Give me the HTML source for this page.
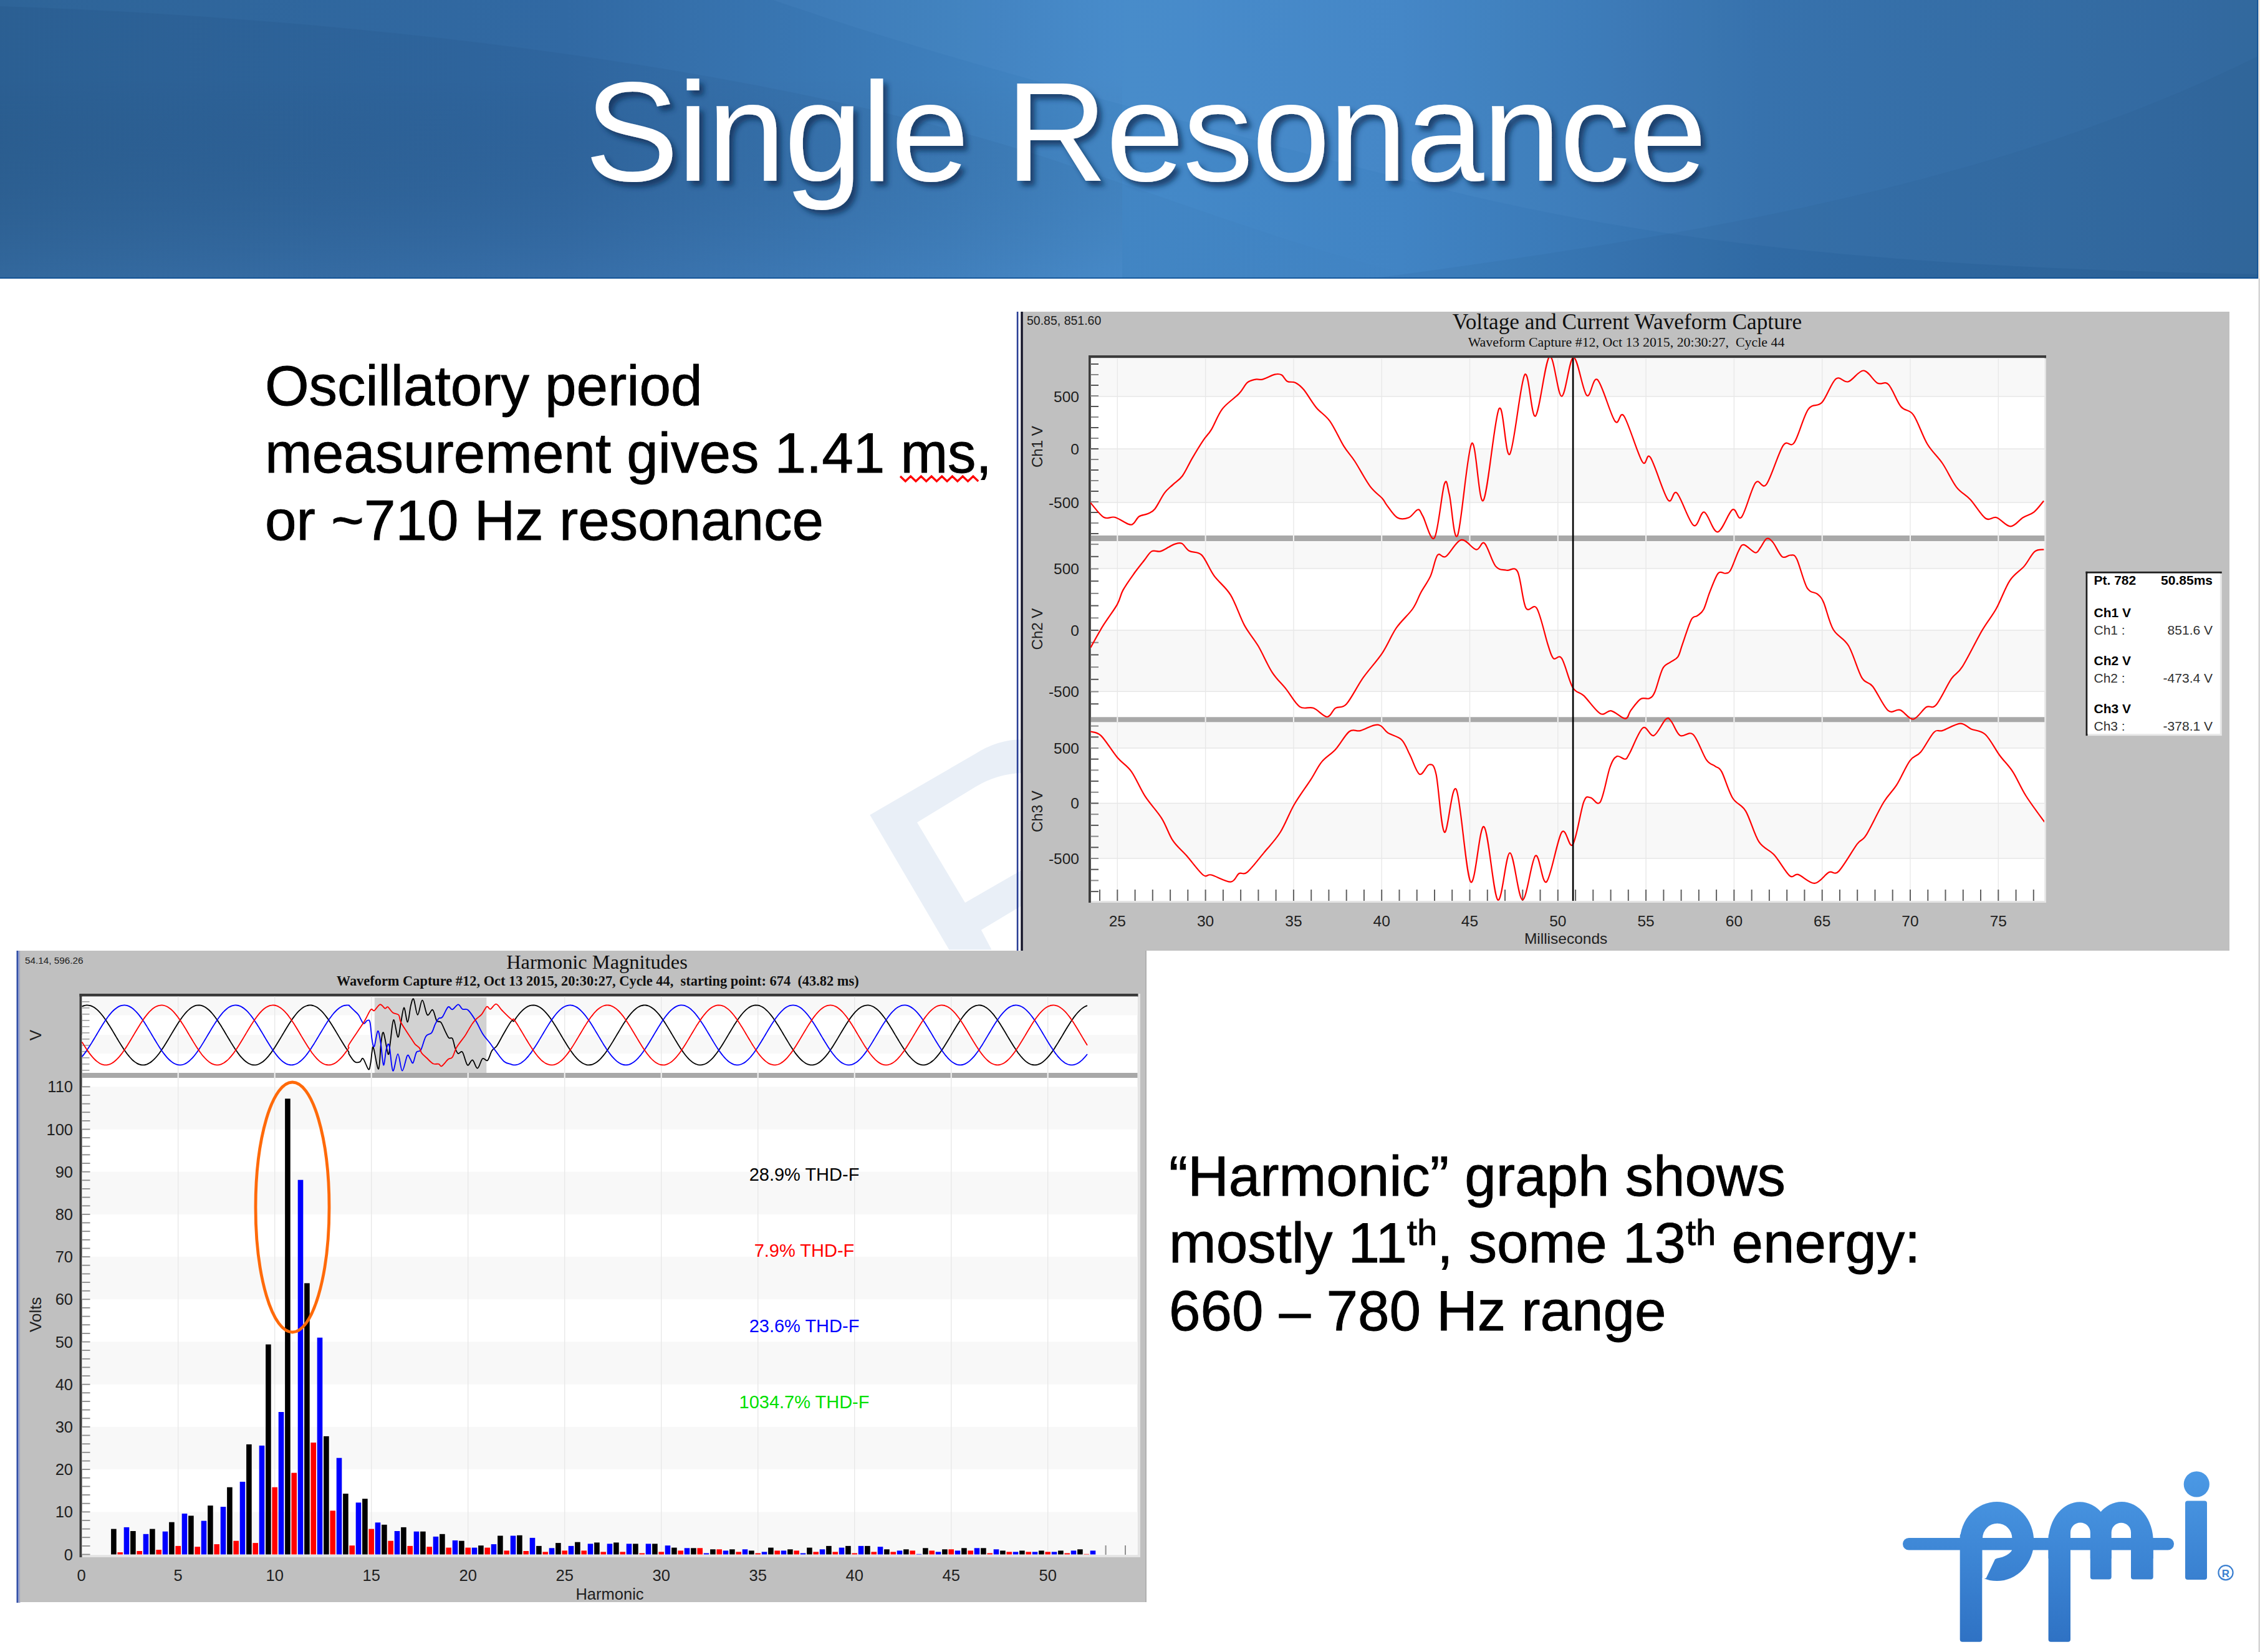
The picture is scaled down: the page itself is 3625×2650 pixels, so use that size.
<!DOCTYPE html>
<html><head><meta charset="utf-8"><title>Single Resonance</title>
<style>
html,body{margin:0;padding:0;background:#fff;overflow:hidden}
svg{display:block}
</style></head><body>
<svg width="3625" height="2650" viewBox="0 0 3625 2650">
<defs>
<linearGradient id="hdr" x1="0" y1="0" x2="1" y2="0">
<stop offset="0" stop-color="#2e6498"/>
<stop offset="0.25" stop-color="#3169a3"/>
<stop offset="0.5" stop-color="#4489c8"/>
<stop offset="0.62" stop-color="#4184c4"/>
<stop offset="0.78" stop-color="#326da8"/>
<stop offset="1" stop-color="#2d6398"/>
</linearGradient>
<linearGradient id="logo" x1="0" y1="0" x2="0" y2="1">
<stop offset="0" stop-color="#4a98e4"/>
<stop offset="1" stop-color="#2e72c4"/>
</linearGradient>
<filter id="tshadow" x="-5%" y="-20%" width="110%" height="150%">
<feGaussianBlur in="SourceAlpha" stdDeviation="4"/>
<feOffset dx="7" dy="8" result="b"/>
<feFlood flood-color="#0f2d55" flood-opacity="0.75"/>
<feComposite in2="b" operator="in"/>
<feMerge><feMergeNode/><feMergeNode in="SourceGraphic"/></feMerge>
</filter>
<clipPath id="topplot"><rect x="1749" y="574" width="1530" height="871"/></clipPath>
<clipPath id="miniplot"><rect x="131" y="1599" width="1694" height="122"/></clipPath>
</defs>

<rect x="0" y="0" width="3622" height="447" fill="url(#hdr)"/>
<linearGradient id="sw1" x1="0" y1="0" x2="1" y2="0"><stop offset="0" stop-color="#1c4677" stop-opacity="0.16"/><stop offset="0.7" stop-color="#1c4677" stop-opacity="0.08"/><stop offset="1" stop-color="#1c4677" stop-opacity="0"/></linearGradient>
<path d="M0,10 C600,30 1250,110 1700,260 C1950,345 2150,420 2300,447 L0,447 Z" fill="url(#sw1)"/>
<linearGradient id="sw0" x1="0" y1="0" x2="0" y2="1"><stop offset="0" stop-color="#000" stop-opacity="0"/><stop offset="1" stop-color="#6aa8e8" stop-opacity="0.13"/></linearGradient>
<rect x="0" y="120" width="1800" height="327" fill="url(#sw0)"/>
<path d="M1240,0 C1500,90 1800,170 2300,300 C2700,400 3100,430 3622,440 L3622,0 Z" fill="#7ab8f0" opacity="0.07"/>
<path d="M2200,447 C2700,380 3200,300 3622,90 L3622,447 Z" fill="#1c4677" opacity="0.07"/>
<rect x="3620.5" y="0" width="2" height="447" fill="#0d4f94"/>
<rect x="0" y="445" width="3622" height="2" fill="#0d4f94" opacity="0.8"/>
<rect x="3622.5" y="0" width="2.5" height="447" fill="#f6ebe0"/>
<rect x="3622.5" y="447" width="2.5" height="2203" fill="#d4d4d4"/>
<text x="938" y="290" style="font-family:'Liberation Sans',sans-serif;font-size:226px;letter-spacing:-2.3px" fill="#fff" filter="url(#tshadow)">Single Resonance</text>
<path d="M1395.3,1307.2 L1522.4,1523.5 L1590.5,1523.5 L1573.8,1491.8 L1640,1452 L1640,1395 L1548,1448 L1471,1319.3 L1565,1262 Q1600,1241 1640,1240 L1640,1186 Q1600,1186 1563,1210 Z" fill="#e9eff7"/>
<text x="425" y="649.5" style="font-family:'Liberation Sans',sans-serif;font-size:90.8px" fill="#000" stroke="#000" stroke-width="0.9">Oscillatory period</text>
<text x="425" y="757.5" style="font-family:'Liberation Sans',sans-serif;font-size:90.8px" fill="#000" stroke="#000" stroke-width="0.9">measurement gives 1.41 ms,</text>
<text x="425" y="866" style="font-family:'Liberation Sans',sans-serif;font-size:90.8px" fill="#000" stroke="#000" stroke-width="0.9">or ~710 Hz resonance</text>
<polyline points="1444.0,764.0 1452.3,772.0 1460.7,764.0 1469.0,772.0 1477.4,764.0 1485.7,772.0 1494.1,764.0 1502.4,772.0 1510.8,764.0 1519.1,772.0 1527.5,764.0 1535.8,772.0 1544.2,764.0 1552.5,772.0 1560.9,764.0 1569.2,772.0" fill="none" stroke="#ff0000" stroke-width="3.2" stroke-linejoin="miter"/>
<text x="1875" y="1917.8" style="font-family:'Liberation Sans',sans-serif;font-size:90.8px" fill="#000" stroke="#000" stroke-width="0.9">“Harmonic” graph shows</text>
<text x="1875" y="2025.4" style="font-family:'Liberation Sans',sans-serif;font-size:90.8px" fill="#000" stroke="#000" stroke-width="0.9">mostly 11<tspan dy="-28" font-size="58">th</tspan><tspan dy="28">, some 13</tspan><tspan dy="-28" font-size="58">th</tspan><tspan dy="28"> energy:</tspan></text>
<text x="1875" y="2133.5" style="font-family:'Liberation Sans',sans-serif;font-size:90.8px" fill="#000" stroke="#000" stroke-width="0.9">660 – 780 Hz range</text>
<rect x="1630.8" y="500" width="2.6" height="1025" fill="#2a3f96"/>
<rect x="1637.3" y="500" width="3.5" height="1025" fill="#141428"/>
<rect x="1641" y="500" width="1935" height="1025" fill="#c0c0c0"/>
<text x="1647" y="521" style="font-family:'Liberation Sans',sans-serif;font-size:19.5px" fill="#202020">50.85, 851.60</text>
<text x="2610" y="527.6" text-anchor="middle" style="font-family:'Liberation Serif',serif;font-size:35.3px" fill="#101010">Voltage and Current Waveform Capture</text>
<text x="2608.5" y="556.4" text-anchor="middle" style="font-family:'Liberation Serif',serif;font-size:21.9px;white-space:pre" fill="#101010">Waveform Capture #12, Oct 13 2015, 20:30:27,  Cycle 44</text>
<rect x="1746" y="570" width="1536" height="878" fill="#e4e4e4"/>
<rect x="1749.8" y="574.4" width="1529.5" height="870.6" fill="#ffffff"/>
<rect x="1746" y="570" width="1536" height="4.4" fill="#3c3c3c"/>
<rect x="1746" y="570" width="3.8" height="878" fill="#3c3c3c"/>
<rect x="1749.8" y="574.4" width="1529.5" height="61.6" fill="#f8f8f8"/>
<rect x="1749.8" y="720" width="1529.5" height="86.0" fill="#f8f8f8"/>
<rect x="1749.8" y="635.3" width="1529.5" height="1.4" fill="#e6e6e6"/>
<rect x="1749.8" y="719.3" width="1529.5" height="1.4" fill="#e6e6e6"/>
<rect x="1749.8" y="805.3" width="1529.5" height="1.4" fill="#e6e6e6"/>
<rect x="1749.8" y="868" width="1529.5" height="44.0" fill="#f8f8f8"/>
<rect x="1749.8" y="1011" width="1529.5" height="98.3" fill="#f8f8f8"/>
<rect x="1749.8" y="911.3" width="1529.5" height="1.4" fill="#e6e6e6"/>
<rect x="1749.8" y="1010.3" width="1529.5" height="1.4" fill="#e6e6e6"/>
<rect x="1749.8" y="1108.6" width="1529.5" height="1.4" fill="#e6e6e6"/>
<rect x="1749.8" y="1158.3" width="1529.5" height="41.7" fill="#f8f8f8"/>
<rect x="1749.8" y="1288.5" width="1529.5" height="88.5" fill="#f8f8f8"/>
<rect x="1749.8" y="1199.3" width="1529.5" height="1.4" fill="#e6e6e6"/>
<rect x="1749.8" y="1287.8" width="1529.5" height="1.4" fill="#e6e6e6"/>
<rect x="1749.8" y="1376.3" width="1529.5" height="1.4" fill="#e6e6e6"/>
<rect x="1791.6" y="574.4" width="1.4" height="870.6" fill="#e8e8e8"/>
<rect x="1932.9" y="574.4" width="1.4" height="870.6" fill="#e8e8e8"/>
<rect x="2074.2" y="574.4" width="1.4" height="870.6" fill="#e8e8e8"/>
<rect x="2215.5" y="574.4" width="1.4" height="870.6" fill="#e8e8e8"/>
<rect x="2356.8" y="574.4" width="1.4" height="870.6" fill="#e8e8e8"/>
<rect x="2498.1" y="574.4" width="1.4" height="870.6" fill="#e8e8e8"/>
<rect x="2639.4" y="574.4" width="1.4" height="870.6" fill="#e8e8e8"/>
<rect x="2780.7" y="574.4" width="1.4" height="870.6" fill="#e8e8e8"/>
<rect x="2922.0" y="574.4" width="1.4" height="870.6" fill="#e8e8e8"/>
<rect x="3063.3" y="574.4" width="1.4" height="870.6" fill="#e8e8e8"/>
<rect x="3204.6" y="574.4" width="1.4" height="870.6" fill="#e8e8e8"/>
<rect x="1749.8" y="859" width="1529.5" height="9" fill="#a8a8a8"/>
<rect x="1749.8" y="1150.3" width="1529.5" height="8" fill="#a8a8a8"/>
<rect x="1791.3" y="859" width="2" height="9" fill="#f4f4f4"/>
<rect x="1791.3" y="1150.3" width="2" height="8" fill="#f4f4f4"/>
<rect x="1932.6" y="859" width="2" height="9" fill="#f4f4f4"/>
<rect x="1932.6" y="1150.3" width="2" height="8" fill="#f4f4f4"/>
<rect x="2073.9" y="859" width="2" height="9" fill="#f4f4f4"/>
<rect x="2073.9" y="1150.3" width="2" height="8" fill="#f4f4f4"/>
<rect x="2215.2" y="859" width="2" height="9" fill="#f4f4f4"/>
<rect x="2215.2" y="1150.3" width="2" height="8" fill="#f4f4f4"/>
<rect x="2356.5" y="859" width="2" height="9" fill="#f4f4f4"/>
<rect x="2356.5" y="1150.3" width="2" height="8" fill="#f4f4f4"/>
<rect x="2497.8" y="859" width="2" height="9" fill="#f4f4f4"/>
<rect x="2497.8" y="1150.3" width="2" height="8" fill="#f4f4f4"/>
<rect x="2639.1" y="859" width="2" height="9" fill="#f4f4f4"/>
<rect x="2639.1" y="1150.3" width="2" height="8" fill="#f4f4f4"/>
<rect x="2780.4" y="859" width="2" height="9" fill="#f4f4f4"/>
<rect x="2780.4" y="1150.3" width="2" height="8" fill="#f4f4f4"/>
<rect x="2921.7" y="859" width="2" height="9" fill="#f4f4f4"/>
<rect x="2921.7" y="1150.3" width="2" height="8" fill="#f4f4f4"/>
<rect x="3063.0" y="859" width="2" height="9" fill="#f4f4f4"/>
<rect x="3063.0" y="1150.3" width="2" height="8" fill="#f4f4f4"/>
<rect x="3204.3" y="859" width="2" height="9" fill="#f4f4f4"/>
<rect x="3204.3" y="1150.3" width="2" height="8" fill="#f4f4f4"/>
<rect x="1750" y="855.0" width="12" height="2" fill="#555555"/>
<rect x="1750" y="838.0" width="12" height="2" fill="#8a8a8a"/>
<rect x="1750" y="821.0" width="12" height="2" fill="#555555"/>
<rect x="1750" y="804.0" width="12" height="2" fill="#8a8a8a"/>
<rect x="1750" y="787.0" width="12" height="2" fill="#555555"/>
<rect x="1750" y="770.0" width="12" height="2" fill="#8a8a8a"/>
<rect x="1750" y="753.0" width="12" height="2" fill="#555555"/>
<rect x="1750" y="736.0" width="12" height="2" fill="#8a8a8a"/>
<rect x="1750" y="719.0" width="12" height="2" fill="#555555"/>
<rect x="1750" y="702.0" width="12" height="2" fill="#8a8a8a"/>
<rect x="1750" y="685.0" width="12" height="2" fill="#555555"/>
<rect x="1750" y="668.0" width="12" height="2" fill="#8a8a8a"/>
<rect x="1750" y="651.0" width="12" height="2" fill="#555555"/>
<rect x="1750" y="634.0" width="12" height="2" fill="#8a8a8a"/>
<rect x="1750" y="617.0" width="12" height="2" fill="#555555"/>
<rect x="1750" y="600.0" width="12" height="2" fill="#8a8a8a"/>
<rect x="1750" y="583.0" width="12" height="2" fill="#555555"/>
<rect x="1750" y="1128.2" width="12" height="2" fill="#555555"/>
<rect x="1750" y="1108.5" width="12" height="2" fill="#8a8a8a"/>
<rect x="1750" y="1088.8" width="12" height="2" fill="#555555"/>
<rect x="1750" y="1069.1" width="12" height="2" fill="#8a8a8a"/>
<rect x="1750" y="1049.4" width="12" height="2" fill="#555555"/>
<rect x="1750" y="1029.7" width="12" height="2" fill="#8a8a8a"/>
<rect x="1750" y="1010.0" width="12" height="2" fill="#555555"/>
<rect x="1750" y="990.3" width="12" height="2" fill="#8a8a8a"/>
<rect x="1750" y="970.6" width="12" height="2" fill="#555555"/>
<rect x="1750" y="950.9" width="12" height="2" fill="#8a8a8a"/>
<rect x="1750" y="931.2" width="12" height="2" fill="#555555"/>
<rect x="1750" y="911.5" width="12" height="2" fill="#8a8a8a"/>
<rect x="1750" y="891.8" width="12" height="2" fill="#555555"/>
<rect x="1750" y="872.1" width="12" height="2" fill="#8a8a8a"/>
<rect x="1750" y="1429.1" width="12" height="2" fill="#555555"/>
<rect x="1750" y="1411.4" width="12" height="2" fill="#8a8a8a"/>
<rect x="1750" y="1393.7" width="12" height="2" fill="#555555"/>
<rect x="1750" y="1376.0" width="12" height="2" fill="#8a8a8a"/>
<rect x="1750" y="1358.3" width="12" height="2" fill="#555555"/>
<rect x="1750" y="1340.6" width="12" height="2" fill="#8a8a8a"/>
<rect x="1750" y="1322.9" width="12" height="2" fill="#555555"/>
<rect x="1750" y="1305.2" width="12" height="2" fill="#8a8a8a"/>
<rect x="1750" y="1287.5" width="12" height="2" fill="#555555"/>
<rect x="1750" y="1269.8" width="12" height="2" fill="#8a8a8a"/>
<rect x="1750" y="1252.1" width="12" height="2" fill="#555555"/>
<rect x="1750" y="1234.4" width="12" height="2" fill="#8a8a8a"/>
<rect x="1750" y="1216.7" width="12" height="2" fill="#555555"/>
<rect x="1750" y="1199.0" width="12" height="2" fill="#8a8a8a"/>
<rect x="1750" y="1181.3" width="12" height="2" fill="#555555"/>
<rect x="1750" y="1163.6" width="12" height="2" fill="#8a8a8a"/>
<rect x="1763.0" y="1427" width="2" height="18" fill="#606060"/>
<rect x="1791.3" y="1427" width="2" height="18" fill="#606060"/>
<rect x="1819.6" y="1427" width="2" height="18" fill="#606060"/>
<rect x="1847.8" y="1427" width="2" height="18" fill="#606060"/>
<rect x="1876.1" y="1427" width="2" height="18" fill="#606060"/>
<rect x="1904.3" y="1427" width="2" height="18" fill="#606060"/>
<rect x="1932.6" y="1427" width="2" height="18" fill="#606060"/>
<rect x="1960.9" y="1427" width="2" height="18" fill="#606060"/>
<rect x="1989.1" y="1427" width="2" height="18" fill="#606060"/>
<rect x="2017.4" y="1427" width="2" height="18" fill="#606060"/>
<rect x="2045.6" y="1427" width="2" height="18" fill="#606060"/>
<rect x="2073.9" y="1427" width="2" height="18" fill="#606060"/>
<rect x="2102.2" y="1427" width="2" height="18" fill="#606060"/>
<rect x="2130.4" y="1427" width="2" height="18" fill="#606060"/>
<rect x="2158.7" y="1427" width="2" height="18" fill="#606060"/>
<rect x="2186.9" y="1427" width="2" height="18" fill="#606060"/>
<rect x="2215.2" y="1427" width="2" height="18" fill="#606060"/>
<rect x="2243.5" y="1427" width="2" height="18" fill="#606060"/>
<rect x="2271.7" y="1427" width="2" height="18" fill="#606060"/>
<rect x="2300.0" y="1427" width="2" height="18" fill="#606060"/>
<rect x="2328.2" y="1427" width="2" height="18" fill="#606060"/>
<rect x="2356.5" y="1427" width="2" height="18" fill="#606060"/>
<rect x="2384.8" y="1427" width="2" height="18" fill="#606060"/>
<rect x="2413.0" y="1427" width="2" height="18" fill="#606060"/>
<rect x="2441.3" y="1427" width="2" height="18" fill="#606060"/>
<rect x="2469.5" y="1427" width="2" height="18" fill="#606060"/>
<rect x="2497.8" y="1427" width="2" height="18" fill="#606060"/>
<rect x="2526.1" y="1427" width="2" height="18" fill="#606060"/>
<rect x="2554.3" y="1427" width="2" height="18" fill="#606060"/>
<rect x="2582.6" y="1427" width="2" height="18" fill="#606060"/>
<rect x="2610.8" y="1427" width="2" height="18" fill="#606060"/>
<rect x="2639.1" y="1427" width="2" height="18" fill="#606060"/>
<rect x="2667.4" y="1427" width="2" height="18" fill="#606060"/>
<rect x="2695.6" y="1427" width="2" height="18" fill="#606060"/>
<rect x="2723.9" y="1427" width="2" height="18" fill="#606060"/>
<rect x="2752.1" y="1427" width="2" height="18" fill="#606060"/>
<rect x="2780.4" y="1427" width="2" height="18" fill="#606060"/>
<rect x="2808.7" y="1427" width="2" height="18" fill="#606060"/>
<rect x="2836.9" y="1427" width="2" height="18" fill="#606060"/>
<rect x="2865.2" y="1427" width="2" height="18" fill="#606060"/>
<rect x="2893.4" y="1427" width="2" height="18" fill="#606060"/>
<rect x="2921.7" y="1427" width="2" height="18" fill="#606060"/>
<rect x="2950.0" y="1427" width="2" height="18" fill="#606060"/>
<rect x="2978.2" y="1427" width="2" height="18" fill="#606060"/>
<rect x="3006.5" y="1427" width="2" height="18" fill="#606060"/>
<rect x="3034.7" y="1427" width="2" height="18" fill="#606060"/>
<rect x="3063.0" y="1427" width="2" height="18" fill="#606060"/>
<rect x="3091.3" y="1427" width="2" height="18" fill="#606060"/>
<rect x="3119.5" y="1427" width="2" height="18" fill="#606060"/>
<rect x="3147.8" y="1427" width="2" height="18" fill="#606060"/>
<rect x="3176.0" y="1427" width="2" height="18" fill="#606060"/>
<rect x="3204.3" y="1427" width="2" height="18" fill="#606060"/>
<rect x="3232.6" y="1427" width="2" height="18" fill="#606060"/>
<rect x="3260.8" y="1427" width="2" height="18" fill="#606060"/>
<text x="1731" y="644.8" text-anchor="end" style="font-family:'Liberation Sans',sans-serif;font-size:24.5px" fill="#202020">500</text>
<text x="1731" y="728.8" text-anchor="end" style="font-family:'Liberation Sans',sans-serif;font-size:24.5px" fill="#202020">0</text>
<text x="1731" y="814.8" text-anchor="end" style="font-family:'Liberation Sans',sans-serif;font-size:24.5px" fill="#202020">-500</text>
<text x="1731" y="920.8" text-anchor="end" style="font-family:'Liberation Sans',sans-serif;font-size:24.5px" fill="#202020">500</text>
<text x="1731" y="1019.8" text-anchor="end" style="font-family:'Liberation Sans',sans-serif;font-size:24.5px" fill="#202020">0</text>
<text x="1731" y="1118.1" text-anchor="end" style="font-family:'Liberation Sans',sans-serif;font-size:24.5px" fill="#202020">-500</text>
<text x="1731" y="1208.8" text-anchor="end" style="font-family:'Liberation Sans',sans-serif;font-size:24.5px" fill="#202020">500</text>
<text x="1731" y="1297.3" text-anchor="end" style="font-family:'Liberation Sans',sans-serif;font-size:24.5px" fill="#202020">0</text>
<text x="1731" y="1385.8" text-anchor="end" style="font-family:'Liberation Sans',sans-serif;font-size:24.5px" fill="#202020">-500</text>
<text x="0" y="0" transform="translate(1672,716.7) rotate(-90)" text-anchor="middle" style="font-family:'Liberation Sans',sans-serif;font-size:24px" fill="#202020">Ch1 V</text>
<text x="0" y="0" transform="translate(1672,1009.1) rotate(-90)" text-anchor="middle" style="font-family:'Liberation Sans',sans-serif;font-size:24px" fill="#202020">Ch2 V</text>
<text x="0" y="0" transform="translate(1672,1301.7) rotate(-90)" text-anchor="middle" style="font-family:'Liberation Sans',sans-serif;font-size:24px" fill="#202020">Ch3 V</text>
<text x="1792.3" y="1485.5" text-anchor="middle" style="font-family:'Liberation Sans',sans-serif;font-size:24.5px" fill="#202020">25</text>
<text x="1933.6" y="1485.5" text-anchor="middle" style="font-family:'Liberation Sans',sans-serif;font-size:24.5px" fill="#202020">30</text>
<text x="2074.9" y="1485.5" text-anchor="middle" style="font-family:'Liberation Sans',sans-serif;font-size:24.5px" fill="#202020">35</text>
<text x="2216.2" y="1485.5" text-anchor="middle" style="font-family:'Liberation Sans',sans-serif;font-size:24.5px" fill="#202020">40</text>
<text x="2357.5" y="1485.5" text-anchor="middle" style="font-family:'Liberation Sans',sans-serif;font-size:24.5px" fill="#202020">45</text>
<text x="2498.8" y="1485.5" text-anchor="middle" style="font-family:'Liberation Sans',sans-serif;font-size:24.5px" fill="#202020">50</text>
<text x="2640.1" y="1485.5" text-anchor="middle" style="font-family:'Liberation Sans',sans-serif;font-size:24.5px" fill="#202020">55</text>
<text x="2781.4" y="1485.5" text-anchor="middle" style="font-family:'Liberation Sans',sans-serif;font-size:24.5px" fill="#202020">60</text>
<text x="2922.7" y="1485.5" text-anchor="middle" style="font-family:'Liberation Sans',sans-serif;font-size:24.5px" fill="#202020">65</text>
<text x="3064.0" y="1485.5" text-anchor="middle" style="font-family:'Liberation Sans',sans-serif;font-size:24.5px" fill="#202020">70</text>
<text x="3205.3" y="1485.5" text-anchor="middle" style="font-family:'Liberation Sans',sans-serif;font-size:24.5px" fill="#202020">75</text>
<text x="2511.6" y="1514" text-anchor="middle" style="font-family:'Liberation Sans',sans-serif;font-size:24.5px" fill="#202020">Milliseconds</text>
<g clip-path="url(#topplot)" fill="none" stroke="#ff0000" stroke-width="2.2" stroke-linejoin="round">
<path d="M1749.2,806.4 C1752.7,810.3 1763.9,825.9 1770.4,829.8 C1776.9,833.7 1781.4,827.9 1788.1,829.8 C1794.8,831.6 1805.3,839.3 1810.3,840.9 C1815.3,842.5 1815.4,841.7 1818.2,839.6 C1821.0,837.5 1823.3,831.1 1827.1,828.5 C1830.9,825.9 1837.0,826.1 1841.2,824.1 C1845.4,822.1 1847.9,822.0 1852.3,816.5 C1856.7,811.0 1863.0,797.4 1867.8,790.9 C1872.6,784.4 1876.3,782.2 1881.1,777.6 C1885.9,773.0 1891.3,770.5 1896.5,763.5 C1901.7,756.5 1906.5,745.1 1912.0,735.6 C1917.5,726.1 1924.5,714.5 1929.7,706.8 C1934.9,699.0 1937.8,697.6 1943.0,689.1 C1948.2,680.6 1953.3,665.5 1960.7,655.9 C1968.1,646.3 1980.7,638.6 1987.3,631.6 C1993.9,624.6 1996.1,617.7 2000.5,613.9 C2004.9,610.1 2009.7,609.5 2013.8,608.6 C2017.9,607.7 2019.7,609.9 2024.9,608.6 C2030.1,607.3 2039.6,601.8 2044.8,600.6 C2049.9,599.4 2052.5,599.6 2055.8,601.5 C2059.1,603.4 2061.0,609.6 2064.7,611.7 C2068.4,613.8 2073.6,611.7 2078.0,613.9 C2082.4,616.1 2085.7,618.4 2091.2,625.0 C2096.7,631.6 2104.2,645.2 2111.2,653.7 C2118.2,662.2 2125.9,665.5 2133.3,675.8 C2140.7,686.1 2148.8,705.0 2155.4,715.7 C2162.0,726.4 2166.1,729.3 2173.1,740.0 C2180.1,750.7 2190.0,769.8 2197.4,779.8 C2204.8,789.8 2212.9,794.7 2217.3,799.7 C2221.7,804.7 2219.9,804.5 2223.9,809.6 C2227.9,814.7 2235.1,826.8 2241.1,830.3 C2247.1,833.8 2254.2,832.4 2259.7,830.3 C2265.2,828.2 2270.5,817.9 2274.3,817.5 C2278.1,817.1 2277.9,820.6 2282.3,828.1 C2286.7,835.6 2295.2,871.3 2300.9,862.7 C2306.7,854.1 2312.8,787.9 2316.8,776.4 C2320.8,764.9 2321.3,779.9 2324.8,793.6 C2328.3,807.3 2332.0,872.4 2338.0,858.7 C2344.0,845.0 2353.7,720.6 2360.6,711.3 C2367.5,702.0 2371.9,812.2 2379.2,802.9 C2386.5,793.6 2397.3,668.0 2404.4,655.6 C2411.5,643.2 2414.8,737.7 2421.7,728.6 C2428.6,719.5 2438.8,611.3 2445.6,601.1 C2452.4,590.9 2456.2,672.4 2462.8,667.5 C2469.4,662.6 2478.4,577.3 2485.4,572.0 C2492.4,566.7 2498.4,635.5 2504.8,635.7 C2511.2,635.9 2517.2,573.5 2523.9,573.3 C2530.6,573.1 2538.7,628.3 2545.1,634.3 C2551.5,640.3 2554.9,602.2 2562.4,609.1 C2569.9,616.0 2583.2,665.8 2590.3,675.5 C2597.4,685.2 2597.6,656.7 2604.9,667.5 C2612.2,678.3 2627.0,729.4 2634.1,740.5 C2641.2,751.6 2640.5,723.7 2647.3,733.9 C2654.2,744.1 2668.1,792.1 2675.2,801.6 C2682.3,811.1 2682.9,784.1 2689.8,791.0 C2696.7,797.9 2709.1,837.6 2716.4,842.7 C2723.7,847.8 2727.2,819.7 2733.6,821.5 C2740.0,823.3 2747.4,854.1 2754.9,853.4 C2762.4,852.7 2772.4,821.5 2778.8,817.5 C2785.2,813.5 2787.2,836.6 2793.4,829.5 C2799.6,822.4 2809.0,783.4 2815.7,774.6 C2822.4,765.8 2826.0,786.8 2833.4,776.8 C2840.8,766.8 2852.7,725.7 2860.1,714.6 C2867.5,703.5 2871.2,719.7 2877.9,710.1 C2884.6,700.5 2892.8,667.5 2900.2,656.8 C2907.6,646.0 2915.0,653.8 2922.4,645.6 C2929.8,637.4 2937.6,613.3 2944.6,607.8 C2951.6,602.2 2957.2,614.5 2964.6,612.3 C2972.0,610.1 2981.3,594.1 2989.1,594.5 C2996.9,594.9 3004.6,610.8 3011.3,614.5 C3018.0,618.2 3022.8,610.4 3029.1,616.7 C3035.4,623.0 3042.4,644.1 3049.1,652.3 C3055.8,660.4 3062.0,655.6 3069.1,665.6 C3076.2,675.6 3083.6,699.3 3091.4,712.3 C3099.2,725.3 3108.0,732.0 3115.8,743.5 C3123.6,755.0 3130.7,771.7 3138.1,781.3 C3145.5,790.9 3152.5,792.9 3160.3,801.3 C3168.1,809.7 3177.7,826.7 3184.7,831.5 C3191.7,836.3 3195.8,828.1 3202.5,830.2 C3209.2,832.4 3217.8,844.4 3224.8,844.4 C3231.9,844.4 3238.5,834.1 3244.8,830.2 C3251.1,826.4 3256.9,825.8 3262.5,821.3 C3268.1,816.8 3275.5,806.5 3278.1,803.5"/>
<path d="M1749.5,1038.6 C1752.8,1032.8 1761.9,1015.6 1769.0,1004.1 C1776.1,992.6 1786.6,979.2 1792.0,969.6 C1797.4,960.0 1796.7,955.0 1801.3,946.6 C1805.9,938.2 1814.0,927.0 1819.7,919.0 C1825.5,911.0 1831.2,904.1 1835.8,898.3 C1840.4,892.5 1843.1,886.7 1847.3,884.4 C1851.5,882.1 1856.5,885.5 1861.1,884.4 C1865.7,883.2 1871.1,879.4 1874.9,877.5 C1878.7,875.6 1880.6,873.9 1884.1,872.9 C1887.5,871.9 1891.7,870.0 1895.6,871.8 C1899.5,873.6 1902.3,880.7 1907.6,883.8 C1912.9,886.9 1920.9,883.8 1927.5,890.4 C1934.1,897.0 1939.7,912.9 1947.4,923.6 C1955.2,934.3 1965.9,941.4 1974.0,954.6 C1982.1,967.9 1988.7,989.5 1996.1,1003.1 C2003.5,1016.7 2010.8,1023.8 2018.2,1036.3 C2025.6,1048.8 2033.0,1066.9 2040.4,1078.3 C2047.8,1089.7 2055.1,1095.7 2062.5,1104.9 C2069.9,1114.1 2077.2,1128.4 2084.6,1133.6 C2092.0,1138.8 2099.3,1133.1 2106.7,1135.8 C2114.1,1138.5 2122.9,1150.0 2128.8,1150.0 C2134.7,1150.0 2136.9,1139.3 2142.1,1135.8 C2147.3,1132.3 2152.4,1137.3 2159.8,1129.2 C2167.2,1121.1 2176.8,1100.9 2186.4,1087.2 C2196.0,1073.5 2208.5,1060.6 2217.3,1047.3 C2226.2,1034.0 2231.4,1019.3 2239.5,1007.5 C2247.6,995.7 2259.4,986.1 2266.0,976.5 C2272.6,966.9 2274.5,958.8 2279.3,950.0 C2284.1,941.2 2290.3,933.5 2294.7,923.6 C2299.1,913.7 2301.7,895.5 2305.8,890.4 C2309.9,885.2 2312.8,896.8 2319.1,892.7 C2325.4,888.7 2335.4,868.0 2343.5,866.1 C2351.6,864.2 2361.5,880.7 2367.8,881.6 C2374.1,882.5 2375.9,867.0 2381.1,871.4 C2386.3,875.8 2392.9,900.9 2398.8,908.1 C2404.7,915.3 2410.6,913.3 2416.5,914.8 C2422.4,916.3 2429.0,907.0 2434.2,917.0 C2439.3,927.0 2442.2,965.2 2447.4,975.0 C2452.6,984.8 2459.2,966.1 2465.1,976.0 C2471.0,985.9 2478.4,1020.7 2482.8,1034.1 C2487.2,1047.5 2488.0,1052.5 2491.7,1056.2 C2495.4,1059.9 2499.8,1048.5 2505.0,1056.2 C2510.2,1064.0 2516.7,1092.8 2522.6,1102.7 C2528.5,1112.7 2532.9,1108.9 2540.3,1115.9 C2547.7,1122.9 2559.5,1140.6 2566.9,1144.7 C2574.3,1148.8 2577.9,1138.9 2584.6,1140.3 C2591.3,1141.7 2601.8,1153.0 2607.0,1152.9 C2612.2,1152.8 2611.7,1144.9 2615.8,1139.6 C2619.9,1134.3 2626.6,1124.5 2631.6,1121.3 C2636.6,1118.1 2641.8,1122.2 2645.6,1120.3 C2649.4,1118.4 2650.9,1117.6 2654.4,1109.7 C2657.9,1101.8 2662.6,1080.8 2666.7,1072.9 C2670.8,1065.0 2674.9,1065.5 2679.0,1062.3 C2683.1,1059.1 2688.1,1058.3 2691.3,1053.6 C2694.5,1048.9 2694.8,1044.2 2698.3,1034.3 C2701.9,1024.4 2708.6,1002.2 2712.6,994.4 C2716.6,986.6 2719.3,990.5 2722.6,987.7 C2725.9,984.9 2729.2,984.1 2732.5,977.8 C2735.8,971.4 2738.6,959.3 2742.5,949.6 C2746.4,939.9 2751.7,924.7 2755.8,919.7 C2760.0,914.7 2764.1,920.5 2767.4,919.7 C2770.7,918.9 2772.1,920.8 2775.7,914.7 C2779.3,908.6 2785.3,890.0 2788.9,883.2 C2792.5,876.4 2792.8,873.4 2797.2,873.9 C2801.6,874.4 2811.1,885.8 2815.5,886.5 C2819.9,887.2 2820.8,882.0 2823.8,878.2 C2826.8,874.4 2830.4,865.3 2833.7,863.9 C2837.0,862.5 2839.5,865.0 2843.7,869.9 C2847.8,874.8 2853.9,889.7 2858.6,893.1 C2863.3,896.5 2868.0,889.9 2871.9,890.5 C2875.8,891.1 2877.5,887.8 2881.9,896.5 C2886.3,905.2 2893.0,933.5 2898.5,942.9 C2904.0,952.3 2910.6,949.0 2915.0,952.9 C2919.4,956.8 2920.8,956.7 2925.0,966.2 C2929.2,975.7 2933.8,998.1 2940.5,1009.7 C2947.2,1021.3 2957.5,1023.1 2965.1,1036.0 C2972.7,1048.9 2979.8,1076.1 2986.2,1086.9 C2992.6,1097.7 2996.7,1092.2 3003.7,1101.0 C3010.7,1109.8 3021.0,1133.3 3028.3,1139.6 C3035.6,1145.9 3040.9,1136.6 3047.6,1138.9 C3054.3,1141.2 3061.7,1154.4 3068.7,1153.6 C3075.7,1152.8 3083.6,1138.1 3089.7,1134.3 C3095.8,1130.5 3098.8,1138.4 3105.5,1130.8 C3112.2,1123.2 3123.1,1098.9 3130.1,1088.7 C3137.1,1078.5 3139.4,1082.3 3147.6,1069.4 C3155.8,1056.5 3170.1,1026.9 3179.2,1011.4 C3188.3,995.9 3194.6,989.6 3202.0,976.3 C3209.4,962.9 3216.2,942.7 3223.7,931.3 C3231.2,919.9 3240.3,915.9 3246.9,908.1 C3253.5,900.4 3258.2,889.2 3263.5,884.8 C3268.8,880.4 3275.9,882.0 3278.4,881.5"/>
<path d="M1749.2,1173.5 C1752.0,1174.6 1758.8,1173.1 1766.0,1180.1 C1773.2,1187.1 1784.5,1205.9 1792.6,1215.5 C1800.7,1225.1 1807.3,1227.3 1814.7,1237.6 C1822.1,1247.9 1828.7,1264.9 1836.8,1277.4 C1844.9,1289.9 1856.0,1301.0 1863.4,1312.8 C1870.8,1324.6 1874.5,1338.2 1881.1,1348.2 C1887.7,1358.2 1895.1,1363.4 1903.2,1372.6 C1911.3,1381.8 1923.1,1398.3 1929.7,1403.5 C1936.3,1408.7 1935.6,1401.7 1943.0,1403.5 C1950.4,1405.3 1966.6,1415.0 1974.0,1414.6 C1981.4,1414.2 1982.9,1403.9 1987.3,1401.3 C1991.7,1398.7 1993.9,1404.6 2000.5,1399.1 C2007.1,1393.6 2018.2,1378.8 2027.1,1368.1 C2035.9,1357.4 2045.5,1347.9 2053.6,1335.0 C2061.7,1322.1 2067.7,1304.7 2075.8,1290.7 C2083.9,1276.7 2094.9,1262.3 2102.3,1250.9 C2109.7,1239.5 2113.4,1230.2 2120.0,1222.1 C2126.6,1214.0 2134.7,1210.3 2142.1,1202.2 C2149.5,1194.1 2157.6,1178.5 2164.2,1173.5 C2170.8,1168.5 2175.3,1173.8 2181.9,1172.1 C2188.5,1170.4 2198.4,1164.5 2204.0,1163.3 C2209.6,1162.0 2211.5,1162.5 2215.2,1164.6 C2218.9,1166.7 2220.7,1172.0 2226.2,1175.7 C2231.7,1179.4 2242.3,1180.8 2248.2,1186.7 C2254.1,1192.6 2256.7,1201.9 2261.5,1211.1 C2266.3,1220.3 2271.8,1239.4 2277.0,1242.0 C2282.2,1244.6 2288.1,1226.5 2292.5,1226.5 C2296.9,1226.5 2299.4,1223.9 2303.5,1242.0 C2307.6,1260.1 2311.5,1330.9 2316.9,1335.0 C2322.3,1339.1 2328.9,1253.1 2335.9,1266.4 C2342.9,1279.7 2351.5,1404.6 2358.9,1414.6 C2366.3,1424.5 2373.0,1321.3 2380.2,1326.1 C2387.4,1330.9 2395.4,1436.4 2402.3,1443.4 C2409.2,1450.4 2415.2,1368.1 2421.8,1368.1 C2428.4,1368.1 2435.2,1442.7 2442.1,1443.4 C2448.9,1444.2 2456.5,1377.4 2462.9,1372.6 C2469.3,1367.8 2473.6,1420.9 2480.6,1414.6 C2487.6,1408.3 2498.0,1345.0 2505.0,1335.0 C2512.0,1325.0 2516.7,1363.0 2522.6,1354.9 C2528.5,1346.8 2535.5,1298.8 2540.3,1286.3 C2545.1,1273.8 2546.9,1279.6 2551.3,1279.6 C2555.7,1279.6 2561.7,1294.4 2566.9,1286.3 C2572.1,1278.2 2577.9,1243.2 2582.3,1231.0 C2586.7,1218.8 2589.3,1215.5 2593.4,1213.3 C2597.5,1211.1 2603.3,1218.6 2606.7,1217.7 C2610.1,1216.8 2609.3,1216.3 2614.0,1208.0 C2618.7,1199.7 2628.7,1172.4 2635.1,1167.7 C2641.5,1163.0 2646.5,1182.2 2652.7,1179.9 C2658.8,1177.6 2667.3,1157.4 2672.0,1153.6 C2676.7,1149.8 2676.9,1152.7 2680.7,1157.1 C2684.5,1161.5 2689.0,1176.4 2694.8,1179.9 C2700.7,1183.4 2708.8,1171.8 2715.8,1178.2 C2722.8,1184.7 2731.0,1210.1 2736.9,1218.6 C2742.8,1227.1 2746.9,1225.9 2751.0,1229.1 C2755.1,1232.3 2756.8,1229.4 2761.5,1237.9 C2766.2,1246.4 2772.6,1269.5 2779.0,1280.0 C2785.4,1290.5 2793.1,1289.4 2800.1,1301.1 C2807.1,1312.8 2813.6,1338.5 2821.2,1350.2 C2828.8,1361.9 2837.5,1362.2 2845.7,1371.3 C2853.9,1380.4 2863.9,1399.3 2870.3,1404.6 C2876.8,1409.9 2877.7,1400.9 2884.4,1402.9 C2891.1,1405.0 2902.5,1417.5 2910.7,1416.9 C2918.9,1416.3 2927.1,1402.5 2933.5,1399.3 C2939.9,1396.1 2941.7,1405.2 2949.3,1397.6 C2956.9,1390.0 2971.8,1363.3 2979.1,1353.7 C2986.4,1344.1 2986.2,1350.8 2993.2,1339.7 C3000.2,1328.6 3013.1,1300.5 3021.3,1287.0 C3029.5,1273.5 3035.3,1270.0 3042.3,1258.9 C3049.3,1247.8 3057.0,1229.1 3063.4,1220.3 C3069.8,1211.5 3074.5,1213.9 3080.9,1206.3 C3087.3,1198.7 3096.2,1180.4 3102.0,1174.7 C3107.8,1169.0 3109.0,1174.2 3116.0,1171.9 C3123.0,1169.6 3136.5,1161.0 3144.1,1160.6 C3151.7,1160.2 3155.0,1166.5 3161.7,1169.4 C3168.4,1172.3 3176.9,1171.2 3184.5,1178.2 C3192.1,1185.2 3200.0,1201.5 3207.3,1211.5 C3214.6,1221.5 3221.4,1227.1 3228.4,1237.9 C3235.4,1248.7 3241.0,1263.0 3249.5,1276.5 C3258.0,1290.0 3274.3,1311.6 3279.3,1318.6"/>
</g>
<rect x="2521.8" y="574.4" width="2.6" height="870.6" fill="#000"/>
<rect x="3345.5" y="916.8" width="218.3" height="263.4" fill="#e8e8e8"/>
<rect x="3345.5" y="916.8" width="3" height="263.4" fill="#1e1e1e"/>
<rect x="3345.5" y="916.8" width="218.3" height="3" fill="#1e1e1e"/>
<rect x="3348.5" y="919.8" width="212.3" height="257.4" fill="#ffffff"/>
<text x="3358.5" y="938" style="font-family:'Liberation Sans',sans-serif;font-size:21px;font-weight:700" fill="#000">Pt. 782</text>
<text x="3549" y="938" text-anchor="end" style="font-family:'Liberation Sans',sans-serif;font-size:21px;font-weight:700" fill="#000">50.85ms</text>
<text x="3358.5" y="990.4" style="font-family:'Liberation Sans',sans-serif;font-size:21px;font-weight:700" fill="#000">Ch1 V</text>
<text x="3358.5" y="1018.4" style="font-family:'Liberation Sans',sans-serif;font-size:21px" fill="#303030">Ch1 :</text>
<text x="3549" y="1018.4" text-anchor="end" style="font-family:'Liberation Sans',sans-serif;font-size:21px" fill="#303030">851.6 V</text>
<text x="3358.5" y="1067" style="font-family:'Liberation Sans',sans-serif;font-size:21px;font-weight:700" fill="#000">Ch2 V</text>
<text x="3358.5" y="1095.0" style="font-family:'Liberation Sans',sans-serif;font-size:21px" fill="#303030">Ch2 :</text>
<text x="3549" y="1095.0" text-anchor="end" style="font-family:'Liberation Sans',sans-serif;font-size:21px" fill="#303030">-473.4 V</text>
<text x="3358.5" y="1144.4" style="font-family:'Liberation Sans',sans-serif;font-size:21px;font-weight:700" fill="#000">Ch3 V</text>
<text x="3358.5" y="1172.4" style="font-family:'Liberation Sans',sans-serif;font-size:21px" fill="#303030">Ch3 :</text>
<text x="3549" y="1172.4" text-anchor="end" style="font-family:'Liberation Sans',sans-serif;font-size:21px" fill="#303030">-378.1 V</text>
<rect x="26.5" y="1525" width="3.2" height="1046" fill="#3552a8"/>
<rect x="30.5" y="1525" width="1.8" height="1046" fill="#8890b8"/>
<rect x="32" y="1525" width="1807" height="1045" fill="#c0c0c0"/>
<rect x="1837" y="1525" width="2" height="1045" fill="#b0b0b0"/>
<text x="40" y="1546" style="font-family:'Liberation Sans',sans-serif;font-size:15.3px" fill="#202020">54.14, 596.26</text>
<text x="957.5" y="1554" text-anchor="middle" style="font-family:'Liberation Serif',serif;font-size:32.4px" fill="#101010">Harmonic Magnitudes</text>
<text x="958.7" y="1580.5" text-anchor="middle" style="font-family:'Liberation Serif',serif;font-size:22.4px;font-weight:700;white-space:pre" fill="#101010">Waveform Capture #12, Oct 13 2015, 20:30:27, Cycle 44,  starting point: 674  (43.82 ms)</text>
<rect x="127.5" y="1594" width="1701.5" height="904" fill="#e4e4e4"/>
<rect x="131.5" y="1598.6" width="1693" height="895.6" fill="#ffffff"/>
<rect x="127.5" y="1594" width="1698" height="4.6" fill="#3a3a3a"/>
<rect x="127.5" y="1594" width="4" height="904" fill="#3a3a3a"/>
<rect x="131.5" y="1598.6" width="1693" height="30" fill="#f8f8f8"/>
<rect x="131.5" y="1660" width="1693" height="30" fill="#f8f8f8"/>
<rect x="131.5" y="2425.3" width="1693" height="68.2" fill="#f8f8f8"/>
<rect x="131.5" y="2288.9" width="1693" height="68.2" fill="#f8f8f8"/>
<rect x="131.5" y="2152.5" width="1693" height="68.2" fill="#f8f8f8"/>
<rect x="131.5" y="2016.1" width="1693" height="68.2" fill="#f8f8f8"/>
<rect x="131.5" y="1879.7" width="1693" height="68.2" fill="#f8f8f8"/>
<rect x="131.5" y="1743.3" width="1693" height="68.2" fill="#f8f8f8"/>
<rect x="285.0" y="1598.6" width="1.4" height="895.6" fill="#e8e8e8"/>
<rect x="440.0" y="1598.6" width="1.4" height="895.6" fill="#e8e8e8"/>
<rect x="595.0" y="1598.6" width="1.4" height="895.6" fill="#e8e8e8"/>
<rect x="750.0" y="1598.6" width="1.4" height="895.6" fill="#e8e8e8"/>
<rect x="905.0" y="1598.6" width="1.4" height="895.6" fill="#e8e8e8"/>
<rect x="1060.0" y="1598.6" width="1.4" height="895.6" fill="#e8e8e8"/>
<rect x="1215.0" y="1598.6" width="1.4" height="895.6" fill="#e8e8e8"/>
<rect x="1370.0" y="1598.6" width="1.4" height="895.6" fill="#e8e8e8"/>
<rect x="1525.0" y="1598.6" width="1.4" height="895.6" fill="#e8e8e8"/>
<rect x="1680.0" y="1598.6" width="1.4" height="895.6" fill="#e8e8e8"/>
<rect x="600.8" y="1600.4" width="179.5" height="123.6" fill="#d2d2d2"/>
<rect x="131.5" y="1721" width="1693" height="8" fill="#a8a8a8"/>
<rect x="284.7" y="1721" width="2" height="8" fill="#f4f4f4"/>
<rect x="439.7" y="1721" width="2" height="8" fill="#f4f4f4"/>
<rect x="594.7" y="1721" width="2" height="8" fill="#f4f4f4"/>
<rect x="749.7" y="1721" width="2" height="8" fill="#f4f4f4"/>
<rect x="904.7" y="1721" width="2" height="8" fill="#f4f4f4"/>
<rect x="1059.7" y="1721" width="2" height="8" fill="#f4f4f4"/>
<rect x="1214.7" y="1721" width="2" height="8" fill="#f4f4f4"/>
<rect x="1369.7" y="1721" width="2" height="8" fill="#f4f4f4"/>
<rect x="1524.7" y="1721" width="2" height="8" fill="#f4f4f4"/>
<rect x="1679.7" y="1721" width="2" height="8" fill="#f4f4f4"/>
<rect x="131.5" y="2492.6" width="13" height="1.8" fill="#8a8a8a"/>
<rect x="131.5" y="2479.0" width="13" height="1.8" fill="#8a8a8a"/>
<rect x="131.5" y="2465.3" width="13" height="1.8" fill="#8a8a8a"/>
<rect x="131.5" y="2451.7" width="13" height="1.8" fill="#8a8a8a"/>
<rect x="131.5" y="2438.0" width="13" height="1.8" fill="#8a8a8a"/>
<rect x="131.5" y="2424.4" width="13" height="1.8" fill="#8a8a8a"/>
<rect x="131.5" y="2410.8" width="13" height="1.8" fill="#8a8a8a"/>
<rect x="131.5" y="2397.1" width="13" height="1.8" fill="#8a8a8a"/>
<rect x="131.5" y="2383.5" width="13" height="1.8" fill="#8a8a8a"/>
<rect x="131.5" y="2369.8" width="13" height="1.8" fill="#8a8a8a"/>
<rect x="131.5" y="2356.2" width="13" height="1.8" fill="#8a8a8a"/>
<rect x="131.5" y="2342.6" width="13" height="1.8" fill="#8a8a8a"/>
<rect x="131.5" y="2328.9" width="13" height="1.8" fill="#8a8a8a"/>
<rect x="131.5" y="2315.3" width="13" height="1.8" fill="#8a8a8a"/>
<rect x="131.5" y="2301.6" width="13" height="1.8" fill="#8a8a8a"/>
<rect x="131.5" y="2288.0" width="13" height="1.8" fill="#8a8a8a"/>
<rect x="131.5" y="2274.4" width="13" height="1.8" fill="#8a8a8a"/>
<rect x="131.5" y="2260.7" width="13" height="1.8" fill="#8a8a8a"/>
<rect x="131.5" y="2247.1" width="13" height="1.8" fill="#8a8a8a"/>
<rect x="131.5" y="2233.4" width="13" height="1.8" fill="#8a8a8a"/>
<rect x="131.5" y="2219.8" width="13" height="1.8" fill="#8a8a8a"/>
<rect x="131.5" y="2206.2" width="13" height="1.8" fill="#8a8a8a"/>
<rect x="131.5" y="2192.5" width="13" height="1.8" fill="#8a8a8a"/>
<rect x="131.5" y="2178.9" width="13" height="1.8" fill="#8a8a8a"/>
<rect x="131.5" y="2165.2" width="13" height="1.8" fill="#8a8a8a"/>
<rect x="131.5" y="2151.6" width="13" height="1.8" fill="#8a8a8a"/>
<rect x="131.5" y="2138.0" width="13" height="1.8" fill="#8a8a8a"/>
<rect x="131.5" y="2124.3" width="13" height="1.8" fill="#8a8a8a"/>
<rect x="131.5" y="2110.7" width="13" height="1.8" fill="#8a8a8a"/>
<rect x="131.5" y="2097.0" width="13" height="1.8" fill="#8a8a8a"/>
<rect x="131.5" y="2083.4" width="13" height="1.8" fill="#8a8a8a"/>
<rect x="131.5" y="2069.8" width="13" height="1.8" fill="#8a8a8a"/>
<rect x="131.5" y="2056.1" width="13" height="1.8" fill="#8a8a8a"/>
<rect x="131.5" y="2042.5" width="13" height="1.8" fill="#8a8a8a"/>
<rect x="131.5" y="2028.8" width="13" height="1.8" fill="#8a8a8a"/>
<rect x="131.5" y="2015.2" width="13" height="1.8" fill="#8a8a8a"/>
<rect x="131.5" y="2001.6" width="13" height="1.8" fill="#8a8a8a"/>
<rect x="131.5" y="1987.9" width="13" height="1.8" fill="#8a8a8a"/>
<rect x="131.5" y="1974.3" width="13" height="1.8" fill="#8a8a8a"/>
<rect x="131.5" y="1960.6" width="13" height="1.8" fill="#8a8a8a"/>
<rect x="131.5" y="1947.0" width="13" height="1.8" fill="#8a8a8a"/>
<rect x="131.5" y="1933.4" width="13" height="1.8" fill="#8a8a8a"/>
<rect x="131.5" y="1919.7" width="13" height="1.8" fill="#8a8a8a"/>
<rect x="131.5" y="1906.1" width="13" height="1.8" fill="#8a8a8a"/>
<rect x="131.5" y="1892.4" width="13" height="1.8" fill="#8a8a8a"/>
<rect x="131.5" y="1878.8" width="13" height="1.8" fill="#8a8a8a"/>
<rect x="131.5" y="1865.2" width="13" height="1.8" fill="#8a8a8a"/>
<rect x="131.5" y="1851.5" width="13" height="1.8" fill="#8a8a8a"/>
<rect x="131.5" y="1837.9" width="13" height="1.8" fill="#8a8a8a"/>
<rect x="131.5" y="1824.2" width="13" height="1.8" fill="#8a8a8a"/>
<rect x="131.5" y="1810.6" width="13" height="1.8" fill="#8a8a8a"/>
<rect x="131.5" y="1797.0" width="13" height="1.8" fill="#8a8a8a"/>
<rect x="131.5" y="1783.3" width="13" height="1.8" fill="#8a8a8a"/>
<rect x="131.5" y="1769.7" width="13" height="1.8" fill="#8a8a8a"/>
<rect x="131.5" y="1756.0" width="13" height="1.8" fill="#8a8a8a"/>
<rect x="131.5" y="1742.4" width="13" height="1.8" fill="#8a8a8a"/>
<rect x="131.5" y="1606.0" width="12" height="1.6" fill="#a0a0a0"/>
<rect x="131.5" y="1616.0" width="12" height="1.6" fill="#a0a0a0"/>
<rect x="131.5" y="1626.0" width="12" height="1.6" fill="#a0a0a0"/>
<rect x="131.5" y="1636.0" width="12" height="1.6" fill="#a0a0a0"/>
<rect x="131.5" y="1646.0" width="12" height="1.6" fill="#a0a0a0"/>
<rect x="131.5" y="1656.0" width="12" height="1.6" fill="#a0a0a0"/>
<rect x="131.5" y="1666.0" width="12" height="1.6" fill="#a0a0a0"/>
<rect x="131.5" y="1676.0" width="12" height="1.6" fill="#a0a0a0"/>
<rect x="131.5" y="1686.0" width="12" height="1.6" fill="#a0a0a0"/>
<rect x="131.5" y="1696.0" width="12" height="1.6" fill="#a0a0a0"/>
<rect x="131.5" y="1706.0" width="12" height="1.6" fill="#a0a0a0"/>
<rect x="131.5" y="1716.0" width="12" height="1.6" fill="#a0a0a0"/>
<text x="117" y="2502.5" text-anchor="end" style="font-family:'Liberation Sans',sans-serif;font-size:25.5px" fill="#202020">0</text>
<text x="117" y="2434.3" text-anchor="end" style="font-family:'Liberation Sans',sans-serif;font-size:25.5px" fill="#202020">10</text>
<text x="117" y="2366.1" text-anchor="end" style="font-family:'Liberation Sans',sans-serif;font-size:25.5px" fill="#202020">20</text>
<text x="117" y="2297.9" text-anchor="end" style="font-family:'Liberation Sans',sans-serif;font-size:25.5px" fill="#202020">30</text>
<text x="117" y="2229.7" text-anchor="end" style="font-family:'Liberation Sans',sans-serif;font-size:25.5px" fill="#202020">40</text>
<text x="117" y="2161.5" text-anchor="end" style="font-family:'Liberation Sans',sans-serif;font-size:25.5px" fill="#202020">50</text>
<text x="117" y="2093.3" text-anchor="end" style="font-family:'Liberation Sans',sans-serif;font-size:25.5px" fill="#202020">60</text>
<text x="117" y="2025.1" text-anchor="end" style="font-family:'Liberation Sans',sans-serif;font-size:25.5px" fill="#202020">70</text>
<text x="117" y="1956.9" text-anchor="end" style="font-family:'Liberation Sans',sans-serif;font-size:25.5px" fill="#202020">80</text>
<text x="117" y="1888.7" text-anchor="end" style="font-family:'Liberation Sans',sans-serif;font-size:25.5px" fill="#202020">90</text>
<text x="117" y="1820.5" text-anchor="end" style="font-family:'Liberation Sans',sans-serif;font-size:25.5px" fill="#202020">100</text>
<text x="117" y="1752.3" text-anchor="end" style="font-family:'Liberation Sans',sans-serif;font-size:25.5px" fill="#202020">110</text>
<text x="130.7" y="2535.6" text-anchor="middle" style="font-family:'Liberation Sans',sans-serif;font-size:25.5px" fill="#202020">0</text>
<text x="285.7" y="2535.6" text-anchor="middle" style="font-family:'Liberation Sans',sans-serif;font-size:25.5px" fill="#202020">5</text>
<text x="440.7" y="2535.6" text-anchor="middle" style="font-family:'Liberation Sans',sans-serif;font-size:25.5px" fill="#202020">10</text>
<text x="595.7" y="2535.6" text-anchor="middle" style="font-family:'Liberation Sans',sans-serif;font-size:25.5px" fill="#202020">15</text>
<text x="750.7" y="2535.6" text-anchor="middle" style="font-family:'Liberation Sans',sans-serif;font-size:25.5px" fill="#202020">20</text>
<text x="905.7" y="2535.6" text-anchor="middle" style="font-family:'Liberation Sans',sans-serif;font-size:25.5px" fill="#202020">25</text>
<text x="1060.7" y="2535.6" text-anchor="middle" style="font-family:'Liberation Sans',sans-serif;font-size:25.5px" fill="#202020">30</text>
<text x="1215.7" y="2535.6" text-anchor="middle" style="font-family:'Liberation Sans',sans-serif;font-size:25.5px" fill="#202020">35</text>
<text x="1370.7" y="2535.6" text-anchor="middle" style="font-family:'Liberation Sans',sans-serif;font-size:25.5px" fill="#202020">40</text>
<text x="1525.7" y="2535.6" text-anchor="middle" style="font-family:'Liberation Sans',sans-serif;font-size:25.5px" fill="#202020">45</text>
<text x="1680.7" y="2535.6" text-anchor="middle" style="font-family:'Liberation Sans',sans-serif;font-size:25.5px" fill="#202020">50</text>
<text x="978" y="2565.5" text-anchor="middle" style="font-family:'Liberation Sans',sans-serif;font-size:25.5px" fill="#202020">Harmonic</text>
<text x="0" y="0" transform="translate(66,1660.7) rotate(-90)" text-anchor="middle" style="font-family:'Liberation Sans',sans-serif;font-size:26px" fill="#202020">V</text>
<text x="0" y="0" transform="translate(66,2108.8) rotate(-90)" text-anchor="middle" style="font-family:'Liberation Sans',sans-serif;font-size:26px" fill="#202020">Volts</text>
<g clip-path="url(#miniplot)" fill="none" stroke-width="1.8" stroke-linejoin="round">
<path stroke="#000000" d="M131.5,1614.5 C132.2,1614.2 134.2,1613.3 135.5,1613.0 C136.8,1612.6 138.2,1612.4 139.5,1612.4 C140.8,1612.4 142.2,1612.5 143.5,1612.8 C144.8,1613.1 146.2,1613.5 147.5,1614.1 C148.8,1614.7 150.2,1615.4 151.5,1616.3 C152.8,1617.2 154.2,1618.3 155.5,1619.4 C156.8,1620.6 158.2,1621.9 159.5,1623.3 C160.8,1624.8 162.2,1626.3 163.5,1628.0 C164.8,1629.6 166.2,1631.4 167.5,1633.3 C168.8,1635.1 170.2,1637.1 171.5,1639.1 C172.8,1641.1 174.2,1643.2 175.5,1645.3 C176.8,1647.4 178.2,1649.6 179.5,1651.8 C180.8,1654.0 182.2,1656.3 183.5,1658.5 C184.8,1660.8 186.2,1663.1 187.5,1665.3 C188.8,1667.5 190.2,1669.7 191.5,1671.9 C192.8,1674.1 194.2,1676.3 195.5,1678.3 C196.8,1680.4 198.2,1682.5 199.5,1684.4 C200.8,1686.3 202.2,1688.2 203.5,1690.0 C204.8,1691.8 206.2,1693.4 207.5,1695.0 C208.8,1696.5 210.2,1698.0 211.5,1699.3 C212.8,1700.6 214.2,1701.8 215.5,1702.9 C216.8,1703.9 218.2,1704.8 219.5,1705.6 C220.8,1706.3 222.2,1707.0 223.5,1707.4 C224.8,1707.9 226.2,1708.2 227.5,1708.3 C228.8,1708.4 230.2,1708.4 231.5,1708.3 C232.8,1708.1 234.2,1707.7 235.5,1707.3 C236.8,1706.8 238.2,1706.1 239.5,1705.3 C240.8,1704.6 242.2,1703.6 243.5,1702.5 C244.8,1701.5 246.2,1700.3 247.5,1698.9 C248.8,1697.6 250.2,1696.1 251.5,1694.5 C252.8,1692.9 254.2,1691.2 255.5,1689.5 C256.8,1687.7 258.2,1685.8 259.5,1683.8 C260.8,1681.9 262.2,1679.8 263.5,1677.7 C264.8,1675.6 266.2,1673.5 267.5,1671.3 C268.8,1669.1 270.2,1666.8 271.5,1664.6 C272.8,1662.4 274.2,1660.1 275.5,1657.9 C276.8,1655.6 278.2,1653.4 279.5,1651.2 C280.8,1649.0 282.2,1646.8 283.5,1644.7 C284.8,1642.6 286.2,1640.5 287.5,1638.5 C288.8,1636.5 290.2,1634.5 291.5,1632.7 C292.8,1630.9 294.2,1629.1 295.5,1627.5 C296.8,1625.9 298.2,1624.3 299.5,1622.9 C300.8,1621.5 302.2,1620.2 303.5,1619.1 C304.8,1617.9 306.2,1616.9 307.5,1616.1 C308.8,1615.2 310.2,1614.5 311.5,1613.9 C312.8,1613.4 314.2,1613.0 315.5,1612.7 C316.8,1612.5 318.2,1612.4 319.5,1612.4 C320.8,1612.5 322.2,1612.7 323.5,1613.1 C324.8,1613.5 326.2,1614.0 327.5,1614.7 C328.8,1615.4 330.2,1616.2 331.5,1617.2 C332.8,1618.1 334.2,1619.3 335.5,1620.5 C336.8,1621.8 338.2,1623.2 339.5,1624.7 C340.8,1626.2 342.2,1627.8 343.5,1629.5 C344.8,1631.2 346.2,1633.1 347.5,1635.0 C348.8,1636.9 350.2,1638.9 351.5,1640.9 C352.8,1643.0 354.2,1645.1 355.5,1647.2 C356.8,1649.4 358.2,1651.6 359.5,1653.8 C360.8,1656.1 362.2,1658.3 363.5,1660.6 C364.8,1662.8 366.2,1665.1 367.5,1667.3 C368.8,1669.5 370.2,1671.7 371.5,1673.9 C372.8,1676.0 374.2,1678.2 375.5,1680.2 C376.8,1682.2 378.2,1684.2 379.5,1686.1 C380.8,1688.0 382.2,1689.8 383.5,1691.6 C384.8,1693.3 386.2,1694.9 387.5,1696.4 C388.8,1697.8 390.2,1699.2 391.5,1700.5 C392.8,1701.7 394.2,1702.8 395.5,1703.8 C396.8,1704.7 398.2,1705.6 399.5,1706.2 C400.8,1706.9 402.2,1707.4 403.5,1707.8 C404.8,1708.1 406.2,1708.3 407.5,1708.4 C408.8,1708.4 410.2,1708.3 411.5,1708.1 C412.8,1707.8 414.2,1707.4 415.5,1706.8 C416.8,1706.2 418.2,1705.5 419.5,1704.6 C420.8,1703.7 422.2,1702.7 423.5,1701.5 C424.8,1700.4 426.2,1699.1 427.5,1697.7 C428.8,1696.3 430.2,1694.7 431.5,1693.1 C432.8,1691.4 434.2,1689.7 435.5,1687.8 C436.8,1686.0 438.2,1684.0 439.5,1682.0 C440.8,1680.0 442.2,1677.9 443.5,1675.8 C444.8,1673.7 446.2,1671.5 447.5,1669.3 C448.8,1667.1 450.2,1664.8 451.5,1662.6 C452.8,1660.4 454.2,1658.1 455.5,1655.9 C456.8,1653.6 458.2,1651.4 459.5,1649.2 C460.8,1647.0 462.2,1644.9 463.5,1642.8 C464.8,1640.7 466.2,1638.6 467.5,1636.7 C468.8,1634.7 470.2,1632.9 471.5,1631.1 C472.8,1629.3 474.2,1627.6 475.5,1626.0 C476.8,1624.5 478.2,1623.0 479.5,1621.7 C480.8,1620.4 482.2,1619.2 483.5,1618.1 C484.8,1617.0 486.2,1616.1 487.5,1615.3 C488.8,1614.6 490.2,1613.9 491.5,1613.5 C492.8,1613.0 494.2,1612.7 495.5,1612.5 C496.8,1612.4 498.2,1612.4 499.5,1612.5 C500.8,1612.7 502.2,1613.0 503.5,1613.5 C504.8,1613.9 506.2,1614.6 507.5,1615.3 C508.8,1616.1 510.2,1617.0 511.5,1618.1 C512.8,1619.2 514.2,1620.4 515.5,1621.7 C516.8,1623.0 518.2,1624.5 519.5,1626.0 C520.8,1627.6 522.2,1629.3 523.5,1631.1 C524.8,1632.9 526.2,1634.7 527.5,1636.7 C528.8,1638.6 530.2,1640.7 531.5,1642.8 C532.8,1644.9 534.2,1647.0 535.5,1649.2 C536.8,1651.4 538.2,1653.6 539.5,1655.9 C540.8,1658.1 542.2,1660.4 543.5,1662.6 C544.8,1664.8 546.2,1667.1 547.5,1669.3 C548.8,1671.5 550.2,1673.7 551.5,1675.8 C552.8,1677.9 554.2,1680.0 555.5,1682.0 C556.8,1684.0 558.8,1686.3 559.5,1687.8 C560.2,1689.3 558.4,1688.6 560.0,1691.2 C561.6,1693.8 566.3,1701.3 569.2,1703.3 C572.1,1705.3 575.1,1704.2 577.3,1703.3 C579.5,1702.4 580.1,1696.1 582.4,1698.1 C584.7,1700.1 589.1,1714.2 591.1,1715.4 C593.1,1716.6 593.5,1709.8 594.5,1705.0 C595.5,1700.2 596.0,1690.6 596.8,1686.6 C597.6,1682.6 597.4,1676.2 599.1,1680.9 C600.8,1685.6 605.2,1716.2 607.2,1714.8 C609.2,1713.4 609.9,1682.5 611.2,1672.8 C612.5,1663.1 613.3,1653.6 615.2,1656.7 C617.1,1659.8 620.9,1688.9 622.7,1691.2 C624.5,1693.5 624.8,1679.7 626.2,1670.5 C627.6,1661.3 629.3,1637.2 631.3,1636.0 C633.3,1634.8 636.3,1662.6 638.2,1663.6 C640.1,1664.6 641.2,1649.6 642.8,1641.8 C644.4,1634.0 646.2,1616.9 648.0,1616.5 C649.8,1616.1 652.0,1640.1 653.8,1639.5 C655.6,1638.9 657.3,1619.1 658.9,1613.0 C660.5,1606.9 661.7,1600.2 663.5,1602.7 C665.3,1605.2 667.6,1627.7 669.9,1628.0 C672.2,1628.3 674.8,1604.4 677.4,1604.4 C680.0,1604.4 682.6,1625.4 685.4,1628.0 C688.2,1630.6 691.5,1618.4 694.0,1619.9 C696.5,1621.4 698.2,1633.9 700.4,1637.2 C702.6,1640.5 705.0,1637.1 707.3,1640.0 C709.6,1642.9 712.1,1650.3 714.2,1654.4 C716.3,1658.5 718.0,1662.9 719.9,1664.8 C721.8,1666.7 724.0,1663.0 725.7,1665.9 C727.4,1668.8 728.8,1678.0 730.3,1682.0 C731.8,1686.0 733.0,1689.1 734.9,1690.1 C736.8,1691.1 739.3,1684.7 741.8,1687.8 C744.3,1690.9 747.1,1706.4 749.8,1708.5 C752.5,1710.6 755.2,1699.5 757.9,1700.4 C760.6,1701.3 763.2,1714.1 765.9,1713.7 C768.6,1713.3 771.3,1700.2 774.0,1698.1 C776.7,1696.0 779.5,1703.1 782.0,1701.0 C784.5,1698.9 786.5,1689.4 789.0,1685.5 C791.5,1681.6 793.9,1681.8 797.0,1677.4 C800.1,1673.0 803.6,1665.5 807.4,1659.0 C811.2,1652.5 817.2,1641.7 820.0,1638.3 C822.8,1634.9 822.7,1639.3 824.0,1638.3 C825.3,1637.4 826.7,1634.4 828.0,1632.6 C829.3,1630.7 830.7,1629.0 832.0,1627.4 C833.3,1625.7 834.7,1624.2 836.0,1622.8 C837.3,1621.4 838.7,1620.1 840.0,1619.0 C841.3,1617.9 842.7,1616.9 844.0,1616.0 C845.3,1615.2 846.7,1614.4 848.0,1613.9 C849.3,1613.3 850.7,1612.9 852.0,1612.7 C853.3,1612.4 854.7,1612.4 856.0,1612.4 C857.3,1612.5 858.7,1612.7 860.0,1613.1 C861.3,1613.5 862.7,1614.0 864.0,1614.7 C865.3,1615.4 866.7,1616.3 868.0,1617.2 C869.3,1618.2 870.7,1619.4 872.0,1620.6 C873.3,1621.9 874.7,1623.3 876.0,1624.8 C877.3,1626.3 878.7,1627.9 880.0,1629.6 C881.3,1631.4 882.7,1633.2 884.0,1635.1 C885.3,1637.0 886.7,1639.0 888.0,1641.1 C889.3,1643.1 890.7,1645.2 892.0,1647.4 C893.3,1649.6 894.7,1651.8 896.0,1654.0 C897.3,1656.2 898.7,1658.5 900.0,1660.7 C901.3,1663.0 902.7,1665.2 904.0,1667.5 C905.3,1669.7 906.7,1671.9 908.0,1674.0 C909.3,1676.2 910.7,1678.3 912.0,1680.4 C913.3,1682.4 914.7,1684.4 916.0,1686.3 C917.3,1688.2 918.7,1690.0 920.0,1691.7 C921.3,1693.4 922.7,1695.0 924.0,1696.5 C925.3,1698.0 926.7,1699.3 928.0,1700.6 C929.3,1701.8 930.7,1702.9 932.0,1703.8 C933.3,1704.8 934.7,1705.6 936.0,1706.3 C937.3,1706.9 938.7,1707.4 940.0,1707.8 C941.3,1708.2 942.7,1708.4 944.0,1708.4 C945.3,1708.4 946.7,1708.3 948.0,1708.0 C949.3,1707.8 950.7,1707.3 952.0,1706.7 C953.3,1706.2 954.7,1705.4 956.0,1704.5 C957.3,1703.7 958.7,1702.6 960.0,1701.5 C961.3,1700.3 962.7,1699.0 964.0,1697.6 C965.3,1696.1 966.7,1694.6 968.0,1692.9 C969.3,1691.3 970.7,1689.5 972.0,1687.7 C973.3,1685.8 974.7,1683.9 976.0,1681.9 C977.3,1679.9 978.7,1677.8 980.0,1675.6 C981.3,1673.5 982.7,1671.3 984.0,1669.1 C985.3,1666.9 986.7,1664.7 988.0,1662.4 C989.3,1660.2 990.7,1657.9 992.0,1655.7 C993.3,1653.5 994.7,1651.2 996.0,1649.0 C997.3,1646.9 998.7,1644.7 1000.0,1642.6 C1001.3,1640.5 1002.7,1638.5 1004.0,1636.5 C1005.3,1634.6 1006.7,1632.7 1008.0,1630.9 C1009.3,1629.2 1010.7,1627.5 1012.0,1625.9 C1013.3,1624.4 1014.7,1622.9 1016.0,1621.6 C1017.3,1620.3 1018.7,1619.1 1020.0,1618.0 C1021.3,1617.0 1022.7,1616.0 1024.0,1615.3 C1025.3,1614.5 1026.7,1613.9 1028.0,1613.4 C1029.3,1613.0 1030.7,1612.7 1032.0,1612.5 C1033.3,1612.4 1034.7,1612.4 1036.0,1612.5 C1037.3,1612.7 1038.7,1613.0 1040.0,1613.5 C1041.3,1614.0 1042.7,1614.6 1044.0,1615.4 C1045.3,1616.2 1046.7,1617.1 1048.0,1618.2 C1049.3,1619.2 1050.7,1620.5 1052.0,1621.8 C1053.3,1623.1 1054.7,1624.6 1056.0,1626.2 C1057.3,1627.7 1058.7,1629.4 1060.0,1631.2 C1061.3,1633.0 1062.7,1634.9 1064.0,1636.8 C1065.3,1638.8 1066.7,1640.8 1068.0,1642.9 C1069.3,1645.0 1070.7,1647.2 1072.0,1649.4 C1073.3,1651.5 1074.7,1653.8 1076.0,1656.0 C1077.3,1658.3 1078.7,1660.5 1080.0,1662.8 C1081.3,1665.0 1082.7,1667.3 1084.0,1669.5 C1085.3,1671.7 1086.7,1673.8 1088.0,1676.0 C1089.3,1678.1 1090.7,1680.2 1092.0,1682.2 C1093.3,1684.2 1094.7,1686.1 1096.0,1688.0 C1097.3,1689.8 1098.7,1691.6 1100.0,1693.2 C1101.3,1694.8 1102.7,1696.4 1104.0,1697.8 C1105.3,1699.2 1106.7,1700.5 1108.0,1701.6 C1109.3,1702.8 1110.7,1703.8 1112.0,1704.7 C1113.3,1705.5 1114.7,1706.3 1116.0,1706.8 C1117.3,1707.4 1118.7,1707.8 1120.0,1708.1 C1121.3,1708.3 1122.7,1708.4 1124.0,1708.4 C1125.3,1708.3 1126.7,1708.1 1128.0,1707.7 C1129.3,1707.4 1130.7,1706.8 1132.0,1706.2 C1133.3,1705.5 1134.7,1704.7 1136.0,1703.7 C1137.3,1702.7 1138.7,1701.6 1140.0,1700.4 C1141.3,1699.1 1142.7,1697.7 1144.0,1696.3 C1145.3,1694.8 1146.7,1693.1 1148.0,1691.4 C1149.3,1689.7 1150.7,1687.9 1152.0,1686.0 C1153.3,1684.1 1154.7,1682.1 1156.0,1680.0 C1157.3,1678.0 1158.7,1675.9 1160.0,1673.7 C1161.3,1671.6 1162.7,1669.3 1164.0,1667.1 C1165.3,1664.9 1166.7,1662.6 1168.0,1660.4 C1169.3,1658.2 1170.7,1655.9 1172.0,1653.7 C1173.3,1651.5 1174.7,1649.2 1176.0,1647.1 C1177.3,1644.9 1178.7,1642.8 1180.0,1640.8 C1181.3,1638.7 1182.7,1636.7 1184.0,1634.8 C1185.3,1632.9 1186.7,1631.1 1188.0,1629.4 C1189.3,1627.7 1190.7,1626.0 1192.0,1624.5 C1193.3,1623.1 1194.7,1621.7 1196.0,1620.4 C1197.3,1619.2 1198.7,1618.1 1200.0,1617.1 C1201.3,1616.1 1202.7,1615.3 1204.0,1614.6 C1205.3,1614.0 1206.7,1613.4 1208.0,1613.1 C1209.3,1612.7 1210.7,1612.5 1212.0,1612.4 C1213.3,1612.4 1214.7,1612.5 1216.0,1612.7 C1217.3,1613.0 1218.7,1613.4 1220.0,1614.0 C1221.3,1614.5 1222.7,1615.3 1224.0,1616.1 C1225.3,1617.0 1226.7,1618.0 1228.0,1619.2 C1229.3,1620.3 1230.7,1621.6 1232.0,1623.0 C1233.3,1624.4 1234.7,1626.0 1236.0,1627.6 C1237.3,1629.2 1238.7,1631.0 1240.0,1632.8 C1241.3,1634.7 1242.7,1636.6 1244.0,1638.6 C1245.3,1640.6 1246.7,1642.7 1248.0,1644.8 C1249.3,1647.0 1250.7,1649.1 1252.0,1651.3 C1253.3,1653.5 1254.7,1655.8 1256.0,1658.0 C1257.3,1660.3 1258.7,1662.5 1260.0,1664.8 C1261.3,1667.0 1262.7,1669.3 1264.0,1671.4 C1265.3,1673.6 1266.7,1675.8 1268.0,1677.9 C1269.3,1680.0 1270.7,1682.0 1272.0,1684.0 C1273.3,1685.9 1274.7,1687.8 1276.0,1689.6 C1277.3,1691.4 1278.7,1693.1 1280.0,1694.6 C1281.3,1696.2 1282.7,1697.7 1284.0,1699.0 C1285.3,1700.3 1286.7,1701.6 1288.0,1702.6 C1289.3,1703.7 1290.7,1704.6 1292.0,1705.4 C1293.3,1706.2 1294.7,1706.8 1296.0,1707.3 C1297.3,1707.8 1298.7,1708.1 1300.0,1708.3 C1301.3,1708.4 1302.7,1708.4 1304.0,1708.3 C1305.3,1708.1 1306.7,1707.8 1308.0,1707.4 C1309.3,1706.9 1310.7,1706.3 1312.0,1705.5 C1313.3,1704.8 1314.7,1703.8 1316.0,1702.8 C1317.3,1701.7 1318.7,1700.5 1320.0,1699.2 C1321.3,1697.9 1322.7,1696.4 1324.0,1694.9 C1325.3,1693.3 1326.7,1691.6 1328.0,1689.9 C1329.3,1688.1 1330.7,1686.2 1332.0,1684.3 C1333.3,1682.3 1334.7,1680.3 1336.0,1678.2 C1337.3,1676.1 1338.7,1673.9 1340.0,1671.8 C1341.3,1669.6 1342.7,1667.3 1344.0,1665.1 C1345.3,1662.9 1346.7,1660.6 1348.0,1658.4 C1349.3,1656.1 1350.7,1653.9 1352.0,1651.7 C1353.3,1649.5 1354.7,1647.3 1356.0,1645.2 C1357.3,1643.0 1358.7,1640.9 1360.0,1638.9 C1361.3,1636.9 1362.7,1635.0 1364.0,1633.1 C1365.3,1631.3 1366.7,1629.5 1368.0,1627.9 C1369.3,1626.2 1370.7,1624.7 1372.0,1623.2 C1373.3,1621.8 1374.7,1620.5 1376.0,1619.3 C1377.3,1618.2 1378.7,1617.1 1380.0,1616.3 C1381.3,1615.4 1382.7,1614.6 1384.0,1614.1 C1385.3,1613.5 1386.7,1613.0 1388.0,1612.8 C1389.3,1612.5 1390.7,1612.4 1392.0,1612.4 C1393.3,1612.4 1394.7,1612.6 1396.0,1613.0 C1397.3,1613.4 1398.7,1613.9 1400.0,1614.5 C1401.3,1615.2 1402.7,1616.0 1404.0,1617.0 C1405.3,1617.9 1406.7,1619.0 1408.0,1620.2 C1409.3,1621.5 1410.7,1622.8 1412.0,1624.3 C1413.3,1625.8 1414.7,1627.4 1416.0,1629.1 C1417.3,1630.8 1418.7,1632.6 1420.0,1634.5 C1421.3,1636.4 1422.7,1638.4 1424.0,1640.4 C1425.3,1642.5 1426.7,1644.6 1428.0,1646.8 C1429.3,1648.9 1430.7,1651.1 1432.0,1653.3 C1433.3,1655.6 1434.7,1657.8 1436.0,1660.1 C1437.3,1662.3 1438.7,1664.6 1440.0,1666.8 C1441.3,1669.0 1442.7,1671.2 1444.0,1673.4 C1445.3,1675.6 1446.7,1677.7 1448.0,1679.7 C1449.3,1681.8 1450.7,1683.8 1452.0,1685.7 C1453.3,1687.6 1454.7,1689.4 1456.0,1691.2 C1457.3,1692.9 1458.7,1694.5 1460.0,1696.0 C1461.3,1697.5 1462.7,1698.9 1464.0,1700.2 C1465.3,1701.4 1466.7,1702.6 1468.0,1703.6 C1469.3,1704.5 1470.7,1705.4 1472.0,1706.1 C1473.3,1706.8 1474.7,1707.3 1476.0,1707.7 C1477.3,1708.1 1478.7,1708.3 1480.0,1708.4 C1481.3,1708.4 1482.7,1708.4 1484.0,1708.1 C1485.3,1707.9 1486.7,1707.5 1488.0,1706.9 C1489.3,1706.4 1490.7,1705.6 1492.0,1704.8 C1493.3,1703.9 1494.7,1702.9 1496.0,1701.8 C1497.3,1700.7 1498.7,1699.4 1500.0,1698.0 C1501.3,1696.6 1502.7,1695.1 1504.0,1693.4 C1505.3,1691.8 1506.7,1690.1 1508.0,1688.2 C1509.3,1686.4 1510.7,1684.5 1512.0,1682.5 C1513.3,1680.5 1514.7,1678.4 1516.0,1676.3 C1517.3,1674.2 1518.7,1672.0 1520.0,1669.8 C1521.3,1667.6 1522.7,1665.3 1524.0,1663.1 C1525.3,1660.9 1526.7,1658.6 1528.0,1656.4 C1529.3,1654.1 1530.7,1651.9 1532.0,1649.7 C1533.3,1647.5 1534.7,1645.3 1536.0,1643.2 C1537.3,1641.2 1538.7,1639.1 1540.0,1637.1 C1541.3,1635.2 1542.7,1633.3 1544.0,1631.5 C1545.3,1629.7 1546.7,1628.0 1548.0,1626.4 C1549.3,1624.8 1550.7,1623.3 1552.0,1622.0 C1553.3,1620.6 1554.7,1619.4 1556.0,1618.3 C1557.3,1617.3 1558.7,1616.3 1560.0,1615.5 C1561.3,1614.7 1562.7,1614.1 1564.0,1613.6 C1565.3,1613.1 1566.7,1612.7 1568.0,1612.6 C1569.3,1612.4 1570.7,1612.4 1572.0,1612.5 C1573.3,1612.6 1574.7,1612.9 1576.0,1613.4 C1577.3,1613.8 1578.7,1614.4 1580.0,1615.2 C1581.3,1615.9 1582.7,1616.8 1584.0,1617.9 C1585.3,1618.9 1586.7,1620.1 1588.0,1621.4 C1589.3,1622.7 1590.7,1624.1 1592.0,1625.7 C1593.3,1627.2 1594.7,1628.9 1596.0,1630.7 C1597.3,1632.4 1598.7,1634.3 1600.0,1636.3 C1601.3,1638.2 1602.7,1640.2 1604.0,1642.3 C1605.3,1644.4 1606.7,1646.5 1608.0,1648.7 C1609.3,1650.9 1610.7,1653.1 1612.0,1655.3 C1613.3,1657.6 1614.7,1659.8 1616.0,1662.1 C1617.3,1664.3 1618.7,1666.6 1620.0,1668.8 C1621.3,1671.0 1622.7,1673.2 1624.0,1675.3 C1625.3,1677.5 1626.7,1679.6 1628.0,1681.6 C1629.3,1683.6 1630.7,1685.5 1632.0,1687.4 C1633.3,1689.3 1634.7,1691.0 1636.0,1692.7 C1637.3,1694.4 1638.7,1695.9 1640.0,1697.4 C1641.3,1698.8 1642.7,1700.1 1644.0,1701.3 C1645.3,1702.5 1646.7,1703.5 1648.0,1704.4 C1649.3,1705.3 1650.7,1706.1 1652.0,1706.7 C1653.3,1707.3 1654.7,1707.7 1656.0,1708.0 C1657.3,1708.3 1658.7,1708.4 1660.0,1708.4 C1661.3,1708.4 1662.7,1708.2 1664.0,1707.9 C1665.3,1707.5 1666.7,1707.0 1668.0,1706.4 C1669.3,1705.7 1670.7,1704.9 1672.0,1704.0 C1673.3,1703.0 1674.7,1702.0 1676.0,1700.7 C1677.3,1699.5 1678.7,1698.2 1680.0,1696.7 C1681.3,1695.2 1682.7,1693.6 1684.0,1691.9 C1685.3,1690.2 1686.7,1688.4 1688.0,1686.6 C1689.3,1684.7 1690.7,1682.7 1692.0,1680.7 C1693.3,1678.6 1694.7,1676.5 1696.0,1674.4 C1697.3,1672.2 1698.7,1670.0 1700.0,1667.8 C1701.3,1665.6 1702.7,1663.3 1704.0,1661.1 C1705.3,1658.8 1706.7,1656.6 1708.0,1654.3 C1709.3,1652.1 1710.7,1649.9 1712.0,1647.7 C1713.3,1645.6 1714.7,1643.4 1716.0,1641.4 C1717.3,1639.3 1718.7,1637.3 1720.0,1635.4 C1721.3,1633.5 1722.7,1631.6 1724.0,1629.9 C1725.3,1628.2 1726.7,1626.5 1728.0,1625.0 C1729.3,1623.5 1730.7,1622.1 1732.0,1620.8 C1733.3,1619.5 1734.7,1618.4 1736.0,1617.4 C1737.3,1616.4 1738.7,1615.5 1740.0,1614.8 C1741.3,1614.1 1743.3,1613.4 1744.0,1613.2"/>
<path stroke="#0000ff" d="M131.5,1695.1 C132.2,1694.3 134.2,1691.9 135.5,1690.1 C136.8,1688.4 138.2,1686.5 139.5,1684.5 C140.8,1682.6 142.2,1680.6 143.5,1678.5 C144.8,1676.4 146.2,1674.3 147.5,1672.1 C148.8,1669.9 150.2,1667.7 151.5,1665.5 C152.8,1663.2 154.2,1661.0 155.5,1658.7 C156.8,1656.5 158.2,1654.2 159.5,1652.0 C160.8,1649.8 162.2,1647.6 163.5,1645.5 C164.8,1643.3 166.2,1641.2 167.5,1639.2 C168.8,1637.2 170.2,1635.3 171.5,1633.4 C172.8,1631.5 174.2,1629.8 175.5,1628.1 C176.8,1626.4 178.2,1624.9 179.5,1623.4 C180.8,1622.0 182.2,1620.7 183.5,1619.5 C184.8,1618.3 186.2,1617.3 187.5,1616.4 C188.8,1615.5 190.2,1614.7 191.5,1614.1 C192.8,1613.5 194.2,1613.1 195.5,1612.8 C196.8,1612.5 198.2,1612.4 199.5,1612.4 C200.8,1612.4 202.2,1612.6 203.5,1612.9 C204.8,1613.3 206.2,1613.8 207.5,1614.4 C208.8,1615.1 210.2,1615.9 211.5,1616.8 C212.8,1617.8 214.2,1618.8 215.5,1620.1 C216.8,1621.3 218.2,1622.6 219.5,1624.1 C220.8,1625.6 222.2,1627.2 223.5,1628.9 C224.8,1630.6 226.2,1632.4 227.5,1634.2 C228.8,1636.1 230.2,1638.1 231.5,1640.1 C232.8,1642.2 234.2,1644.3 235.5,1646.4 C236.8,1648.6 238.2,1650.8 239.5,1653.0 C240.8,1655.2 242.2,1657.5 243.5,1659.7 C244.8,1662.0 246.2,1664.2 247.5,1666.5 C248.8,1668.7 250.2,1670.9 251.5,1673.1 C252.8,1675.2 254.2,1677.4 255.5,1679.4 C256.8,1681.5 258.2,1683.5 259.5,1685.4 C260.8,1687.3 262.2,1689.2 263.5,1690.9 C264.8,1692.6 266.2,1694.3 267.5,1695.8 C268.8,1697.3 270.2,1698.7 271.5,1700.0 C272.8,1701.3 274.2,1702.4 275.5,1703.4 C276.8,1704.4 278.2,1705.3 279.5,1706.0 C280.8,1706.7 282.2,1707.2 283.5,1707.6 C284.8,1708.0 286.2,1708.3 287.5,1708.4 C288.8,1708.5 290.2,1708.4 291.5,1708.2 C292.8,1707.9 294.2,1707.5 295.5,1707.0 C296.8,1706.5 298.2,1705.8 299.5,1704.9 C300.8,1704.1 302.2,1703.1 303.5,1702.0 C304.8,1700.8 306.2,1699.6 307.5,1698.2 C308.8,1696.8 310.2,1695.3 311.5,1693.7 C312.8,1692.1 314.2,1690.3 315.5,1688.5 C316.8,1686.7 318.2,1684.8 319.5,1682.8 C320.8,1680.8 322.2,1678.7 323.5,1676.6 C324.8,1674.5 326.2,1672.3 327.5,1670.1 C328.8,1667.9 330.2,1665.7 331.5,1663.4 C332.8,1661.2 334.2,1658.9 335.5,1656.7 C336.8,1654.5 338.2,1652.2 339.5,1650.0 C340.8,1647.8 342.2,1645.7 343.5,1643.6 C344.8,1641.5 346.2,1639.4 347.5,1637.4 C348.8,1635.5 350.2,1633.5 351.5,1631.8 C352.8,1630.0 354.2,1628.2 355.5,1626.6 C356.8,1625.0 358.2,1623.5 359.5,1622.2 C360.8,1620.8 362.2,1619.6 363.5,1618.5 C364.8,1617.4 366.2,1616.4 367.5,1615.6 C368.8,1614.8 370.2,1614.2 371.5,1613.6 C372.8,1613.1 374.2,1612.8 375.5,1612.6 C376.8,1612.4 378.2,1612.3 379.5,1612.5 C380.8,1612.6 382.2,1612.9 383.5,1613.3 C384.8,1613.7 386.2,1614.3 387.5,1615.1 C388.8,1615.8 390.2,1616.7 391.5,1617.7 C392.8,1618.7 394.2,1619.9 395.5,1621.2 C396.8,1622.5 398.2,1623.9 399.5,1625.5 C400.8,1627.0 402.2,1628.7 403.5,1630.4 C404.8,1632.2 406.2,1634.0 407.5,1636.0 C408.8,1637.9 410.2,1639.9 411.5,1642.0 C412.8,1644.1 414.2,1646.2 415.5,1648.4 C416.8,1650.6 418.2,1652.8 419.5,1655.0 C420.8,1657.2 422.2,1659.5 423.5,1661.7 C424.8,1664.0 426.2,1666.2 427.5,1668.5 C428.8,1670.7 430.2,1672.9 431.5,1675.0 C432.8,1677.1 434.2,1679.3 435.5,1681.3 C436.8,1683.3 438.2,1685.3 439.5,1687.1 C440.8,1689.0 442.2,1690.8 443.5,1692.4 C444.8,1694.1 446.2,1695.7 447.5,1697.1 C448.8,1698.6 450.2,1699.9 451.5,1701.1 C452.8,1702.3 454.2,1703.4 455.5,1704.3 C456.8,1705.2 458.2,1705.9 459.5,1706.6 C460.8,1707.2 462.2,1707.6 463.5,1707.9 C464.8,1708.3 466.2,1708.4 467.5,1708.4 C468.8,1708.4 470.2,1708.2 471.5,1707.9 C472.8,1707.6 474.2,1707.1 475.5,1706.5 C476.8,1705.8 478.2,1705.1 479.5,1704.1 C480.8,1703.2 482.2,1702.1 483.5,1700.9 C484.8,1699.7 486.2,1698.4 487.5,1696.9 C488.8,1695.5 490.2,1693.9 491.5,1692.2 C492.8,1690.5 494.2,1688.7 495.5,1686.8 C496.8,1685.0 498.2,1683.0 499.5,1681.0 C500.8,1678.9 502.2,1676.8 503.5,1674.7 C504.8,1672.5 506.2,1670.3 507.5,1668.1 C508.8,1665.9 510.2,1663.7 511.5,1661.4 C512.8,1659.2 514.2,1656.9 515.5,1654.7 C516.8,1652.5 518.2,1650.2 519.5,1648.1 C520.8,1645.9 522.2,1643.7 523.5,1641.7 C524.8,1639.6 526.2,1637.6 527.5,1635.7 C528.8,1633.8 530.2,1631.9 531.5,1630.2 C532.8,1628.4 534.2,1626.8 535.5,1625.2 C536.8,1623.7 538.2,1622.3 539.5,1621.0 C540.8,1619.7 542.2,1618.6 543.5,1617.5 C544.8,1616.5 546.2,1615.7 547.5,1614.9 C548.8,1614.2 550.2,1613.6 551.5,1613.2 C552.8,1612.8 554.2,1612.6 555.5,1612.5 C556.8,1612.3 558.8,1612.5 559.5,1612.6 C560.2,1612.7 558.8,1611.8 560.0,1613.0 C561.2,1614.2 564.4,1617.4 566.9,1619.9 C569.4,1622.4 572.3,1624.3 575.0,1628.0 C577.7,1631.7 580.7,1640.3 583.0,1641.8 C585.3,1643.3 587.1,1637.6 588.8,1637.2 C590.5,1636.8 592.1,1634.3 593.4,1639.5 C594.7,1644.7 595.6,1661.7 596.8,1668.2 C597.9,1674.7 598.8,1681.0 600.3,1678.6 C601.8,1676.2 604.3,1654.9 606.0,1653.9 C607.7,1652.9 609.1,1663.7 610.6,1672.8 C612.1,1681.9 613.7,1707.0 615.2,1708.5 C616.7,1710.0 618.3,1687.2 619.8,1682.0 C621.3,1676.8 622.7,1671.5 624.4,1677.4 C626.1,1683.4 627.9,1715.5 630.2,1717.7 C632.5,1719.9 635.7,1690.7 638.2,1690.7 C640.7,1690.7 642.6,1717.2 645.1,1717.7 C647.6,1718.2 651.1,1696.8 653.2,1693.5 C655.3,1690.2 656.3,1696.2 657.8,1698.1 C659.3,1700.0 660.7,1706.7 662.4,1705.0 C664.1,1703.3 666.0,1691.2 668.1,1687.8 C670.2,1684.3 672.5,1688.5 675.0,1684.3 C677.5,1680.1 680.2,1667.1 683.1,1662.5 C686.0,1657.9 689.8,1660.0 692.3,1656.7 C694.8,1653.4 696.2,1646.7 698.1,1642.9 C700.0,1639.1 701.9,1635.6 703.8,1633.7 C705.7,1631.8 707.1,1634.5 709.6,1631.4 C712.1,1628.3 716.1,1617.3 718.8,1615.3 C721.5,1613.3 723.0,1620.0 725.7,1619.3 C728.4,1618.6 732.2,1611.4 734.9,1611.3 C737.6,1611.2 739.1,1617.3 741.8,1618.8 C744.5,1620.3 747.4,1617.2 751.0,1620.5 C754.6,1623.8 759.8,1632.1 763.6,1638.3 C767.4,1644.5 770.4,1652.2 774.0,1657.9 C777.6,1663.7 782.0,1668.2 785.5,1672.8 C789.0,1677.4 790.9,1680.5 794.7,1685.5 C798.5,1690.5 804.3,1699.1 808.5,1702.7 C812.7,1706.3 817.4,1706.4 820.0,1707.3 C822.6,1708.2 822.7,1708.2 824.0,1708.4 C825.3,1708.5 826.7,1708.4 828.0,1708.1 C829.3,1707.9 830.7,1707.5 832.0,1707.0 C833.3,1706.4 834.7,1705.7 836.0,1704.9 C837.3,1704.0 838.7,1703.0 840.0,1701.9 C841.3,1700.8 842.7,1699.5 844.0,1698.1 C845.3,1696.7 846.7,1695.2 848.0,1693.6 C849.3,1691.9 850.7,1690.2 852.0,1688.4 C853.3,1686.5 854.7,1684.6 856.0,1682.6 C857.3,1680.6 858.7,1678.6 860.0,1676.4 C861.3,1674.3 862.7,1672.1 864.0,1670.0 C865.3,1667.8 866.7,1665.5 868.0,1663.3 C869.3,1661.0 870.7,1658.8 872.0,1656.5 C873.3,1654.3 874.7,1652.0 876.0,1649.9 C877.3,1647.7 878.7,1645.5 880.0,1643.4 C881.3,1641.3 882.7,1639.2 884.0,1637.3 C885.3,1635.3 886.7,1633.4 888.0,1631.6 C889.3,1629.8 890.7,1628.1 892.0,1626.5 C893.3,1624.9 894.7,1623.4 896.0,1622.1 C897.3,1620.7 898.7,1619.5 900.0,1618.4 C901.3,1617.3 902.7,1616.4 904.0,1615.6 C905.3,1614.8 906.7,1614.1 908.0,1613.6 C909.3,1613.1 910.7,1612.8 912.0,1612.6 C913.3,1612.4 914.7,1612.3 916.0,1612.5 C917.3,1612.6 918.7,1612.9 920.0,1613.3 C921.3,1613.8 922.7,1614.4 924.0,1615.1 C925.3,1615.8 926.7,1616.7 928.0,1617.8 C929.3,1618.8 930.7,1620.0 932.0,1621.3 C933.3,1622.6 934.7,1624.0 936.0,1625.6 C937.3,1627.1 938.7,1628.8 940.0,1630.5 C941.3,1632.3 942.7,1634.2 944.0,1636.1 C945.3,1638.0 946.7,1640.1 948.0,1642.1 C949.3,1644.2 950.7,1646.4 952.0,1648.5 C953.3,1650.7 954.7,1653.0 956.0,1655.2 C957.3,1657.4 958.7,1659.7 960.0,1661.9 C961.3,1664.2 962.7,1666.4 964.0,1668.6 C965.3,1670.8 966.7,1673.0 968.0,1675.2 C969.3,1677.3 970.7,1679.4 972.0,1681.4 C973.3,1683.4 974.7,1685.4 976.0,1687.3 C977.3,1689.1 978.7,1690.9 980.0,1692.6 C981.3,1694.2 982.7,1695.8 984.0,1697.2 C985.3,1698.7 986.7,1700.0 988.0,1701.2 C989.3,1702.4 990.7,1703.4 992.0,1704.3 C993.3,1705.2 994.7,1706.0 996.0,1706.6 C997.3,1707.2 998.7,1707.7 1000.0,1708.0 C1001.3,1708.3 1002.7,1708.4 1004.0,1708.4 C1005.3,1708.4 1006.7,1708.2 1008.0,1707.9 C1009.3,1707.5 1010.7,1707.1 1012.0,1706.4 C1013.3,1705.8 1014.7,1705.0 1016.0,1704.1 C1017.3,1703.1 1018.7,1702.0 1020.0,1700.8 C1021.3,1699.6 1022.7,1698.3 1024.0,1696.8 C1025.3,1695.3 1026.7,1693.7 1028.0,1692.1 C1029.3,1690.4 1030.7,1688.6 1032.0,1686.7 C1033.3,1684.8 1034.7,1682.8 1036.0,1680.8 C1037.3,1678.8 1038.7,1676.7 1040.0,1674.5 C1041.3,1672.4 1042.7,1670.2 1044.0,1668.0 C1045.3,1665.7 1046.7,1663.5 1048.0,1661.2 C1049.3,1659.0 1050.7,1656.7 1052.0,1654.5 C1053.3,1652.3 1054.7,1650.1 1056.0,1647.9 C1057.3,1645.7 1058.7,1643.6 1060.0,1641.5 C1061.3,1639.5 1062.7,1637.4 1064.0,1635.5 C1065.3,1633.6 1066.7,1631.8 1068.0,1630.0 C1069.3,1628.3 1070.7,1626.6 1072.0,1625.1 C1073.3,1623.6 1074.7,1622.2 1076.0,1620.9 C1077.3,1619.6 1078.7,1618.5 1080.0,1617.5 C1081.3,1616.5 1082.7,1615.6 1084.0,1614.9 C1085.3,1614.2 1086.7,1613.6 1088.0,1613.2 C1089.3,1612.8 1090.7,1612.5 1092.0,1612.4 C1093.3,1612.3 1094.7,1612.4 1096.0,1612.6 C1097.3,1612.9 1098.7,1613.2 1100.0,1613.8 C1101.3,1614.3 1102.7,1615.0 1104.0,1615.8 C1105.3,1616.6 1106.7,1617.6 1108.0,1618.7 C1109.3,1619.9 1110.7,1621.1 1112.0,1622.5 C1113.3,1623.9 1114.7,1625.4 1116.0,1627.0 C1117.3,1628.6 1118.7,1630.3 1120.0,1632.2 C1121.3,1634.0 1122.7,1635.9 1124.0,1637.9 C1125.3,1639.9 1126.7,1641.9 1128.0,1644.0 C1129.3,1646.1 1130.7,1648.3 1132.0,1650.5 C1133.3,1652.7 1134.7,1655.0 1136.0,1657.2 C1137.3,1659.4 1138.7,1661.7 1140.0,1663.9 C1141.3,1666.2 1142.7,1668.4 1144.0,1670.6 C1145.3,1672.8 1146.7,1675.0 1148.0,1677.1 C1149.3,1679.2 1150.7,1681.3 1152.0,1683.2 C1153.3,1685.2 1154.7,1687.1 1156.0,1688.9 C1157.3,1690.7 1158.7,1692.4 1160.0,1694.0 C1161.3,1695.6 1162.7,1697.1 1164.0,1698.5 C1165.3,1699.9 1166.7,1701.1 1168.0,1702.2 C1169.3,1703.3 1170.7,1704.3 1172.0,1705.1 C1173.3,1705.9 1174.7,1706.6 1176.0,1707.1 C1177.3,1707.6 1178.7,1708.0 1180.0,1708.2 C1181.3,1708.4 1182.7,1708.5 1184.0,1708.3 C1185.3,1708.2 1186.7,1708.0 1188.0,1707.5 C1189.3,1707.1 1190.7,1706.5 1192.0,1705.8 C1193.3,1705.1 1194.7,1704.2 1196.0,1703.2 C1197.3,1702.2 1198.7,1701.0 1200.0,1699.7 C1201.3,1698.4 1202.7,1697.0 1204.0,1695.5 C1205.3,1693.9 1206.7,1692.3 1208.0,1690.5 C1209.3,1688.8 1210.7,1686.9 1212.0,1685.0 C1213.3,1683.1 1214.7,1681.0 1216.0,1679.0 C1217.3,1676.9 1218.7,1674.7 1220.0,1672.6 C1221.3,1670.4 1222.7,1668.2 1224.0,1666.0 C1225.3,1663.7 1226.7,1661.5 1228.0,1659.2 C1229.3,1657.0 1230.7,1654.7 1232.0,1652.5 C1233.3,1650.3 1234.7,1648.1 1236.0,1646.0 C1237.3,1643.8 1238.7,1641.7 1240.0,1639.7 C1241.3,1637.7 1242.7,1635.7 1244.0,1633.8 C1245.3,1632.0 1246.7,1630.2 1248.0,1628.5 C1249.3,1626.8 1250.7,1625.2 1252.0,1623.8 C1253.3,1622.3 1254.7,1621.0 1256.0,1619.8 C1257.3,1618.6 1258.7,1617.5 1260.0,1616.6 C1261.3,1615.7 1262.7,1614.9 1264.0,1614.3 C1265.3,1613.7 1266.7,1613.2 1268.0,1612.9 C1269.3,1612.6 1270.7,1612.4 1272.0,1612.4 C1273.3,1612.4 1274.7,1612.6 1276.0,1612.9 C1277.3,1613.2 1278.7,1613.7 1280.0,1614.3 C1281.3,1614.9 1282.7,1615.7 1284.0,1616.6 C1285.3,1617.5 1286.7,1618.6 1288.0,1619.8 C1289.3,1621.0 1290.7,1622.3 1292.0,1623.8 C1293.3,1625.2 1294.7,1626.8 1296.0,1628.5 C1297.3,1630.2 1298.7,1632.0 1300.0,1633.8 C1301.3,1635.7 1302.7,1637.7 1304.0,1639.7 C1305.3,1641.7 1306.7,1643.8 1308.0,1646.0 C1309.3,1648.1 1310.7,1650.3 1312.0,1652.5 C1313.3,1654.7 1314.7,1657.0 1316.0,1659.2 C1317.3,1661.5 1318.7,1663.7 1320.0,1666.0 C1321.3,1668.2 1322.7,1670.4 1324.0,1672.6 C1325.3,1674.7 1326.7,1676.9 1328.0,1679.0 C1329.3,1681.0 1330.7,1683.1 1332.0,1685.0 C1333.3,1686.9 1334.7,1688.8 1336.0,1690.5 C1337.3,1692.3 1338.7,1693.9 1340.0,1695.5 C1341.3,1697.0 1342.7,1698.4 1344.0,1699.7 C1345.3,1701.0 1346.7,1702.2 1348.0,1703.2 C1349.3,1704.2 1350.7,1705.1 1352.0,1705.8 C1353.3,1706.5 1354.7,1707.1 1356.0,1707.5 C1357.3,1708.0 1358.7,1708.2 1360.0,1708.3 C1361.3,1708.5 1362.7,1708.4 1364.0,1708.2 C1365.3,1708.0 1366.7,1707.6 1368.0,1707.1 C1369.3,1706.6 1370.7,1705.9 1372.0,1705.1 C1373.3,1704.3 1374.7,1703.3 1376.0,1702.2 C1377.3,1701.1 1378.7,1699.9 1380.0,1698.5 C1381.3,1697.1 1382.7,1695.6 1384.0,1694.0 C1385.3,1692.4 1386.7,1690.7 1388.0,1688.9 C1389.3,1687.1 1390.7,1685.2 1392.0,1683.2 C1393.3,1681.3 1394.7,1679.2 1396.0,1677.1 C1397.3,1675.0 1398.7,1672.8 1400.0,1670.6 C1401.3,1668.4 1402.7,1666.2 1404.0,1663.9 C1405.3,1661.7 1406.7,1659.4 1408.0,1657.2 C1409.3,1655.0 1410.7,1652.7 1412.0,1650.5 C1413.3,1648.3 1414.7,1646.1 1416.0,1644.0 C1417.3,1641.9 1418.7,1639.9 1420.0,1637.9 C1421.3,1635.9 1422.7,1634.0 1424.0,1632.2 C1425.3,1630.3 1426.7,1628.6 1428.0,1627.0 C1429.3,1625.4 1430.7,1623.9 1432.0,1622.5 C1433.3,1621.1 1434.7,1619.9 1436.0,1618.7 C1437.3,1617.6 1438.7,1616.6 1440.0,1615.8 C1441.3,1615.0 1442.7,1614.3 1444.0,1613.8 C1445.3,1613.2 1446.7,1612.9 1448.0,1612.6 C1449.3,1612.4 1450.7,1612.3 1452.0,1612.4 C1453.3,1612.5 1454.7,1612.8 1456.0,1613.2 C1457.3,1613.6 1458.7,1614.2 1460.0,1614.9 C1461.3,1615.6 1462.7,1616.5 1464.0,1617.5 C1465.3,1618.5 1466.7,1619.6 1468.0,1620.9 C1469.3,1622.2 1470.7,1623.6 1472.0,1625.1 C1473.3,1626.6 1474.7,1628.3 1476.0,1630.0 C1477.3,1631.8 1478.7,1633.6 1480.0,1635.5 C1481.3,1637.4 1482.7,1639.5 1484.0,1641.5 C1485.3,1643.6 1486.7,1645.7 1488.0,1647.9 C1489.3,1650.1 1490.7,1652.3 1492.0,1654.5 C1493.3,1656.7 1494.7,1659.0 1496.0,1661.2 C1497.3,1663.5 1498.7,1665.7 1500.0,1668.0 C1501.3,1670.2 1502.7,1672.4 1504.0,1674.5 C1505.3,1676.7 1506.7,1678.8 1508.0,1680.8 C1509.3,1682.8 1510.7,1684.8 1512.0,1686.7 C1513.3,1688.6 1514.7,1690.4 1516.0,1692.1 C1517.3,1693.7 1518.7,1695.3 1520.0,1696.8 C1521.3,1698.3 1522.7,1699.6 1524.0,1700.8 C1525.3,1702.0 1526.7,1703.1 1528.0,1704.1 C1529.3,1705.0 1530.7,1705.8 1532.0,1706.4 C1533.3,1707.1 1534.7,1707.5 1536.0,1707.9 C1537.3,1708.2 1538.7,1708.4 1540.0,1708.4 C1541.3,1708.4 1542.7,1708.3 1544.0,1708.0 C1545.3,1707.7 1546.7,1707.2 1548.0,1706.6 C1549.3,1706.0 1550.7,1705.2 1552.0,1704.3 C1553.3,1703.4 1554.7,1702.4 1556.0,1701.2 C1557.3,1700.0 1558.7,1698.7 1560.0,1697.2 C1561.3,1695.8 1562.7,1694.2 1564.0,1692.6 C1565.3,1690.9 1566.7,1689.1 1568.0,1687.3 C1569.3,1685.4 1570.7,1683.4 1572.0,1681.4 C1573.3,1679.4 1574.7,1677.3 1576.0,1675.2 C1577.3,1673.0 1578.7,1670.8 1580.0,1668.6 C1581.3,1666.4 1582.7,1664.2 1584.0,1661.9 C1585.3,1659.7 1586.7,1657.4 1588.0,1655.2 C1589.3,1653.0 1590.7,1650.7 1592.0,1648.5 C1593.3,1646.4 1594.7,1644.2 1596.0,1642.1 C1597.3,1640.1 1598.7,1638.0 1600.0,1636.1 C1601.3,1634.2 1602.7,1632.3 1604.0,1630.5 C1605.3,1628.8 1606.7,1627.1 1608.0,1625.6 C1609.3,1624.0 1610.7,1622.6 1612.0,1621.3 C1613.3,1620.0 1614.7,1618.8 1616.0,1617.8 C1617.3,1616.7 1618.7,1615.8 1620.0,1615.1 C1621.3,1614.4 1622.7,1613.8 1624.0,1613.3 C1625.3,1612.9 1626.7,1612.6 1628.0,1612.5 C1629.3,1612.3 1630.7,1612.4 1632.0,1612.6 C1633.3,1612.8 1634.7,1613.1 1636.0,1613.6 C1637.3,1614.1 1638.7,1614.8 1640.0,1615.6 C1641.3,1616.4 1642.7,1617.3 1644.0,1618.4 C1645.3,1619.5 1646.7,1620.7 1648.0,1622.1 C1649.3,1623.4 1650.7,1624.9 1652.0,1626.5 C1653.3,1628.1 1654.7,1629.8 1656.0,1631.6 C1657.3,1633.4 1658.7,1635.3 1660.0,1637.3 C1661.3,1639.2 1662.7,1641.3 1664.0,1643.4 C1665.3,1645.5 1666.7,1647.7 1668.0,1649.9 C1669.3,1652.0 1670.7,1654.3 1672.0,1656.5 C1673.3,1658.8 1674.7,1661.0 1676.0,1663.3 C1677.3,1665.5 1678.7,1667.8 1680.0,1670.0 C1681.3,1672.1 1682.7,1674.3 1684.0,1676.4 C1685.3,1678.6 1686.7,1680.6 1688.0,1682.6 C1689.3,1684.6 1690.7,1686.5 1692.0,1688.4 C1693.3,1690.2 1694.7,1691.9 1696.0,1693.6 C1697.3,1695.2 1698.7,1696.7 1700.0,1698.1 C1701.3,1699.5 1702.7,1700.8 1704.0,1701.9 C1705.3,1703.0 1706.7,1704.0 1708.0,1704.9 C1709.3,1705.7 1710.7,1706.4 1712.0,1707.0 C1713.3,1707.5 1714.7,1707.9 1716.0,1708.1 C1717.3,1708.4 1718.7,1708.4 1720.0,1708.4 C1721.3,1708.3 1722.7,1708.1 1724.0,1707.7 C1725.3,1707.3 1726.7,1706.7 1728.0,1706.0 C1729.3,1705.3 1730.7,1704.5 1732.0,1703.5 C1733.3,1702.5 1734.7,1701.3 1736.0,1700.1 C1737.3,1698.8 1738.7,1697.4 1740.0,1695.9 C1741.3,1694.4 1743.3,1691.9 1744.0,1691.0"/>
<path stroke="#ff0000" d="M131.5,1671.4 C132.2,1672.5 134.2,1675.8 135.5,1677.9 C136.8,1680.0 138.2,1682.0 139.5,1684.0 C140.8,1685.9 142.2,1687.8 143.5,1689.6 C144.8,1691.4 146.2,1693.1 147.5,1694.6 C148.8,1696.2 150.2,1697.7 151.5,1699.0 C152.8,1700.3 154.2,1701.6 155.5,1702.6 C156.8,1703.7 158.2,1704.6 159.5,1705.4 C160.8,1706.2 162.2,1706.8 163.5,1707.3 C164.8,1707.8 166.2,1708.1 167.5,1708.3 C168.8,1708.4 170.2,1708.4 171.5,1708.3 C172.8,1708.1 174.2,1707.8 175.5,1707.4 C176.8,1706.9 178.2,1706.3 179.5,1705.5 C180.8,1704.8 182.2,1703.8 183.5,1702.8 C184.8,1701.7 186.2,1700.5 187.5,1699.2 C188.8,1697.9 190.2,1696.4 191.5,1694.9 C192.8,1693.3 194.2,1691.6 195.5,1689.9 C196.8,1688.1 198.2,1686.2 199.5,1684.3 C200.8,1682.3 202.2,1680.3 203.5,1678.2 C204.8,1676.1 206.2,1673.9 207.5,1671.8 C208.8,1669.6 210.2,1667.3 211.5,1665.1 C212.8,1662.9 214.2,1660.6 215.5,1658.4 C216.8,1656.1 218.2,1653.9 219.5,1651.7 C220.8,1649.5 222.2,1647.3 223.5,1645.2 C224.8,1643.0 226.2,1640.9 227.5,1638.9 C228.8,1636.9 230.2,1635.0 231.5,1633.1 C232.8,1631.3 234.2,1629.5 235.5,1627.9 C236.8,1626.2 238.2,1624.7 239.5,1623.2 C240.8,1621.8 242.2,1620.5 243.5,1619.3 C244.8,1618.2 246.2,1617.1 247.5,1616.3 C248.8,1615.4 250.2,1614.6 251.5,1614.1 C252.8,1613.5 254.2,1613.0 255.5,1612.8 C256.8,1612.5 258.2,1612.4 259.5,1612.4 C260.8,1612.4 262.2,1612.6 263.5,1613.0 C264.8,1613.4 266.2,1613.9 267.5,1614.5 C268.8,1615.2 270.2,1616.0 271.5,1617.0 C272.8,1617.9 274.2,1619.0 275.5,1620.2 C276.8,1621.5 278.2,1622.8 279.5,1624.3 C280.8,1625.8 282.2,1627.4 283.5,1629.1 C284.8,1630.8 286.2,1632.6 287.5,1634.5 C288.8,1636.4 290.2,1638.4 291.5,1640.4 C292.8,1642.5 294.2,1644.6 295.5,1646.8 C296.8,1648.9 298.2,1651.1 299.5,1653.3 C300.8,1655.6 302.2,1657.8 303.5,1660.1 C304.8,1662.3 306.2,1664.6 307.5,1666.8 C308.8,1669.0 310.2,1671.2 311.5,1673.4 C312.8,1675.6 314.2,1677.7 315.5,1679.7 C316.8,1681.8 318.2,1683.8 319.5,1685.7 C320.8,1687.6 322.2,1689.4 323.5,1691.2 C324.8,1692.9 326.2,1694.5 327.5,1696.0 C328.8,1697.5 330.2,1698.9 331.5,1700.2 C332.8,1701.4 334.2,1702.6 335.5,1703.6 C336.8,1704.5 338.2,1705.4 339.5,1706.1 C340.8,1706.8 342.2,1707.3 343.5,1707.7 C344.8,1708.1 346.2,1708.3 347.5,1708.4 C348.8,1708.4 350.2,1708.4 351.5,1708.1 C352.8,1707.9 354.2,1707.5 355.5,1706.9 C356.8,1706.4 358.2,1705.6 359.5,1704.8 C360.8,1703.9 362.2,1702.9 363.5,1701.8 C364.8,1700.7 366.2,1699.4 367.5,1698.0 C368.8,1696.6 370.2,1695.1 371.5,1693.4 C372.8,1691.8 374.2,1690.1 375.5,1688.2 C376.8,1686.4 378.2,1684.5 379.5,1682.5 C380.8,1680.5 382.2,1678.4 383.5,1676.3 C384.8,1674.2 386.2,1672.0 387.5,1669.8 C388.8,1667.6 390.2,1665.3 391.5,1663.1 C392.8,1660.9 394.2,1658.6 395.5,1656.4 C396.8,1654.1 398.2,1651.9 399.5,1649.7 C400.8,1647.5 402.2,1645.3 403.5,1643.2 C404.8,1641.2 406.2,1639.1 407.5,1637.1 C408.8,1635.2 410.2,1633.3 411.5,1631.5 C412.8,1629.7 414.2,1628.0 415.5,1626.4 C416.8,1624.8 418.2,1623.3 419.5,1622.0 C420.8,1620.6 422.2,1619.4 423.5,1618.3 C424.8,1617.3 426.2,1616.3 427.5,1615.5 C428.8,1614.7 430.2,1614.1 431.5,1613.6 C432.8,1613.1 434.2,1612.7 435.5,1612.6 C436.8,1612.4 438.2,1612.4 439.5,1612.5 C440.8,1612.6 442.2,1612.9 443.5,1613.4 C444.8,1613.8 446.2,1614.4 447.5,1615.2 C448.8,1615.9 450.2,1616.8 451.5,1617.9 C452.8,1618.9 454.2,1620.1 455.5,1621.4 C456.8,1622.7 458.2,1624.1 459.5,1625.7 C460.8,1627.2 462.2,1628.9 463.5,1630.7 C464.8,1632.4 466.2,1634.3 467.5,1636.3 C468.8,1638.2 470.2,1640.2 471.5,1642.3 C472.8,1644.4 474.2,1646.5 475.5,1648.7 C476.8,1650.9 478.2,1653.1 479.5,1655.3 C480.8,1657.6 482.2,1659.8 483.5,1662.1 C484.8,1664.3 486.2,1666.6 487.5,1668.8 C488.8,1671.0 490.2,1673.2 491.5,1675.3 C492.8,1677.5 494.2,1679.6 495.5,1681.6 C496.8,1683.6 498.2,1685.5 499.5,1687.4 C500.8,1689.3 502.2,1691.0 503.5,1692.7 C504.8,1694.4 506.2,1695.9 507.5,1697.4 C508.8,1698.8 510.2,1700.1 511.5,1701.3 C512.8,1702.5 514.2,1703.5 515.5,1704.4 C516.8,1705.3 518.2,1706.1 519.5,1706.7 C520.8,1707.3 522.2,1707.7 523.5,1708.0 C524.8,1708.3 526.2,1708.4 527.5,1708.4 C528.8,1708.4 530.2,1708.2 531.5,1707.9 C532.8,1707.5 534.2,1707.0 535.5,1706.4 C536.8,1705.7 538.2,1704.9 539.5,1704.0 C540.8,1703.0 542.2,1702.0 543.5,1700.7 C544.8,1699.5 546.2,1698.2 547.5,1696.7 C548.8,1695.2 550.2,1693.6 551.5,1691.9 C552.8,1690.2 554.2,1688.4 555.5,1686.6 C556.8,1684.7 558.8,1682.6 559.5,1680.7 C560.2,1678.8 556.1,1681.8 560.0,1675.1 C563.9,1668.4 577.2,1649.8 583.0,1640.6 C588.8,1631.4 591.6,1623.2 594.5,1619.9 C597.4,1616.7 597.8,1622.5 600.3,1621.1 C602.8,1619.7 606.6,1611.9 609.5,1611.3 C612.4,1610.7 615.4,1616.9 617.5,1617.6 C619.6,1618.3 620.0,1614.1 622.1,1615.3 C624.2,1616.5 627.3,1622.4 630.2,1624.5 C633.1,1626.6 637.3,1625.5 639.4,1628.0 C641.5,1630.5 640.7,1635.1 642.8,1639.5 C644.9,1643.9 648.9,1649.6 652.0,1654.4 C655.1,1659.2 658.9,1664.8 661.2,1668.2 C663.5,1671.7 663.9,1673.0 665.8,1675.1 C667.7,1677.2 671.0,1678.6 672.7,1680.9 C674.4,1683.2 674.3,1686.2 676.2,1688.9 C678.1,1691.6 681.2,1694.1 684.3,1697.0 C687.4,1699.9 691.4,1704.6 694.6,1706.2 C697.9,1707.8 701.5,1706.1 703.8,1706.8 C706.1,1707.5 705.9,1711.5 708.4,1710.2 C710.9,1709.0 715.9,1701.7 718.8,1699.3 C721.7,1696.9 723.4,1699.1 725.7,1695.8 C728.0,1692.5 729.4,1685.2 732.6,1679.7 C735.9,1674.2 742.3,1666.6 745.2,1662.5 C748.1,1658.4 747.7,1658.5 749.8,1655.0 C751.9,1651.5 755.6,1645.1 757.9,1641.8 C760.2,1638.5 761.1,1637.4 763.6,1634.9 C766.1,1632.4 769.9,1630.2 772.8,1626.8 C775.7,1623.4 778.6,1616.0 780.9,1614.7 C783.2,1613.4 784.1,1619.5 786.6,1618.8 C789.1,1618.1 792.7,1610.4 795.8,1610.7 C798.9,1611.0 801.0,1616.5 805.0,1620.5 C809.0,1624.5 816.8,1632.5 820.0,1634.9 C823.2,1637.3 822.7,1633.7 824.0,1634.7 C825.3,1635.6 826.7,1638.6 828.0,1640.6 C829.3,1642.6 830.7,1644.8 832.0,1646.9 C833.3,1649.1 834.7,1651.3 836.0,1653.5 C837.3,1655.7 838.7,1658.0 840.0,1660.2 C841.3,1662.5 842.7,1664.7 844.0,1667.0 C845.3,1669.2 846.7,1671.4 848.0,1673.6 C849.3,1675.7 850.7,1677.8 852.0,1679.9 C853.3,1681.9 854.7,1683.9 856.0,1685.8 C857.3,1687.7 858.7,1689.6 860.0,1691.3 C861.3,1693.0 862.7,1694.6 864.0,1696.1 C865.3,1697.6 866.7,1699.0 868.0,1700.3 C869.3,1701.5 870.7,1702.7 872.0,1703.6 C873.3,1704.6 874.7,1705.4 876.0,1706.1 C877.3,1706.8 878.7,1707.3 880.0,1707.7 C881.3,1708.1 882.7,1708.3 884.0,1708.4 C885.3,1708.4 886.7,1708.3 888.0,1708.1 C889.3,1707.8 890.7,1707.4 892.0,1706.9 C893.3,1706.3 894.7,1705.6 896.0,1704.7 C897.3,1703.9 898.7,1702.9 900.0,1701.7 C901.3,1700.6 902.7,1699.3 904.0,1697.9 C905.3,1696.5 906.7,1694.9 908.0,1693.3 C909.3,1691.7 910.7,1689.9 912.0,1688.1 C913.3,1686.3 914.7,1684.3 916.0,1682.3 C917.3,1680.3 918.7,1678.2 920.0,1676.1 C921.3,1674.0 922.7,1671.8 924.0,1669.6 C925.3,1667.4 926.7,1665.2 928.0,1662.9 C929.3,1660.7 930.7,1658.4 932.0,1656.2 C933.3,1654.0 934.7,1651.7 936.0,1649.5 C937.3,1647.3 938.7,1645.2 940.0,1643.1 C941.3,1641.0 942.7,1638.9 944.0,1637.0 C945.3,1635.0 946.7,1633.1 948.0,1631.3 C949.3,1629.6 950.7,1627.9 952.0,1626.3 C953.3,1624.7 954.7,1623.2 956.0,1621.9 C957.3,1620.5 958.7,1619.3 960.0,1618.3 C961.3,1617.2 962.7,1616.2 964.0,1615.5 C965.3,1614.7 966.7,1614.0 968.0,1613.5 C969.3,1613.1 970.7,1612.7 972.0,1612.5 C973.3,1612.4 974.7,1612.4 976.0,1612.5 C977.3,1612.6 978.7,1612.9 980.0,1613.4 C981.3,1613.8 982.7,1614.5 984.0,1615.2 C985.3,1616.0 986.7,1616.9 988.0,1617.9 C989.3,1619.0 990.7,1620.2 992.0,1621.5 C993.3,1622.8 994.7,1624.3 996.0,1625.8 C997.3,1627.4 998.7,1629.0 1000.0,1630.8 C1001.3,1632.6 1002.7,1634.5 1004.0,1636.4 C1005.3,1638.3 1006.7,1640.4 1008.0,1642.5 C1009.3,1644.5 1010.7,1646.7 1012.0,1648.9 C1013.3,1651.1 1014.7,1653.3 1016.0,1655.5 C1017.3,1657.7 1018.7,1660.0 1020.0,1662.3 C1021.3,1664.5 1022.7,1666.8 1024.0,1669.0 C1025.3,1671.2 1026.7,1673.4 1028.0,1675.5 C1029.3,1677.6 1030.7,1679.7 1032.0,1681.7 C1033.3,1683.7 1034.7,1685.7 1036.0,1687.5 C1037.3,1689.4 1038.7,1691.2 1040.0,1692.8 C1041.3,1694.5 1042.7,1696.0 1044.0,1697.5 C1045.3,1698.9 1046.7,1700.2 1048.0,1701.4 C1049.3,1702.5 1050.7,1703.6 1052.0,1704.5 C1053.3,1705.4 1054.7,1706.1 1056.0,1706.7 C1057.3,1707.3 1058.7,1707.7 1060.0,1708.0 C1061.3,1708.3 1062.7,1708.4 1064.0,1708.4 C1065.3,1708.4 1066.7,1708.2 1068.0,1707.8 C1069.3,1707.5 1070.7,1707.0 1072.0,1706.3 C1073.3,1705.7 1074.7,1704.9 1076.0,1703.9 C1077.3,1703.0 1078.7,1701.9 1080.0,1700.6 C1081.3,1699.4 1082.7,1698.1 1084.0,1696.6 C1085.3,1695.1 1086.7,1693.5 1088.0,1691.8 C1089.3,1690.1 1090.7,1688.3 1092.0,1686.4 C1093.3,1684.5 1094.7,1682.5 1096.0,1680.5 C1097.3,1678.5 1098.7,1676.3 1100.0,1674.2 C1101.3,1672.1 1102.7,1669.8 1104.0,1667.6 C1105.3,1665.4 1106.7,1663.1 1108.0,1660.9 C1109.3,1658.7 1110.7,1656.4 1112.0,1654.2 C1113.3,1652.0 1114.7,1649.7 1116.0,1647.6 C1117.3,1645.4 1118.7,1643.3 1120.0,1641.2 C1121.3,1639.2 1122.7,1637.2 1124.0,1635.2 C1125.3,1633.3 1126.7,1631.5 1128.0,1629.8 C1129.3,1628.0 1130.7,1626.4 1132.0,1624.9 C1133.3,1623.4 1134.7,1622.0 1136.0,1620.7 C1137.3,1619.5 1138.7,1618.3 1140.0,1617.3 C1141.3,1616.3 1142.7,1615.5 1144.0,1614.8 C1145.3,1614.1 1146.7,1613.5 1148.0,1613.1 C1149.3,1612.7 1150.7,1612.5 1152.0,1612.4 C1153.3,1612.4 1154.7,1612.4 1156.0,1612.7 C1157.3,1612.9 1158.7,1613.3 1160.0,1613.8 C1161.3,1614.4 1162.7,1615.1 1164.0,1615.9 C1165.3,1616.8 1166.7,1617.8 1168.0,1618.9 C1169.3,1620.0 1170.7,1621.3 1172.0,1622.7 C1173.3,1624.1 1174.7,1625.6 1176.0,1627.2 C1177.3,1628.9 1178.7,1630.6 1180.0,1632.4 C1181.3,1634.3 1182.7,1636.2 1184.0,1638.2 C1185.3,1640.2 1186.7,1642.2 1188.0,1644.4 C1189.3,1646.5 1190.7,1648.7 1192.0,1650.8 C1193.3,1653.0 1194.7,1655.3 1196.0,1657.5 C1197.3,1659.8 1198.7,1662.0 1200.0,1664.3 C1201.3,1666.5 1202.7,1668.8 1204.0,1670.9 C1205.3,1673.1 1206.7,1675.3 1208.0,1677.4 C1209.3,1679.5 1210.7,1681.6 1212.0,1683.5 C1213.3,1685.5 1214.7,1687.4 1216.0,1689.2 C1217.3,1691.0 1218.7,1692.7 1220.0,1694.3 C1221.3,1695.9 1222.7,1697.4 1224.0,1698.7 C1225.3,1700.1 1226.7,1701.3 1228.0,1702.4 C1229.3,1703.5 1230.7,1704.4 1232.0,1705.2 C1233.3,1706.0 1234.7,1706.7 1236.0,1707.2 C1237.3,1707.7 1238.7,1708.0 1240.0,1708.2 C1241.3,1708.4 1242.7,1708.5 1244.0,1708.3 C1245.3,1708.2 1246.7,1707.9 1248.0,1707.5 C1249.3,1707.0 1250.7,1706.4 1252.0,1705.7 C1253.3,1705.0 1254.7,1704.1 1256.0,1703.0 C1257.3,1702.0 1258.7,1700.8 1260.0,1699.5 C1261.3,1698.2 1262.7,1696.8 1264.0,1695.2 C1265.3,1693.7 1266.7,1692.0 1268.0,1690.3 C1269.3,1688.5 1270.7,1686.6 1272.0,1684.7 C1273.3,1682.8 1274.7,1680.7 1276.0,1678.7 C1277.3,1676.6 1278.7,1674.4 1280.0,1672.3 C1281.3,1670.1 1282.7,1667.8 1284.0,1665.6 C1285.3,1663.4 1286.7,1661.1 1288.0,1658.9 C1289.3,1656.6 1290.7,1654.4 1292.0,1652.2 C1293.3,1650.0 1294.7,1647.8 1296.0,1645.6 C1297.3,1643.5 1298.7,1641.4 1300.0,1639.4 C1301.3,1637.4 1302.7,1635.4 1304.0,1633.5 C1305.3,1631.7 1306.7,1629.9 1308.0,1628.2 C1309.3,1626.6 1310.7,1625.0 1312.0,1623.6 C1313.3,1622.1 1314.7,1620.8 1316.0,1619.6 C1317.3,1618.4 1318.7,1617.4 1320.0,1616.5 C1321.3,1615.6 1322.7,1614.8 1324.0,1614.2 C1325.3,1613.6 1326.7,1613.1 1328.0,1612.8 C1329.3,1612.5 1330.7,1612.4 1332.0,1612.4 C1333.3,1612.4 1334.7,1612.6 1336.0,1612.9 C1337.3,1613.3 1338.7,1613.7 1340.0,1614.4 C1341.3,1615.0 1342.7,1615.8 1344.0,1616.7 C1345.3,1617.7 1346.7,1618.8 1348.0,1620.0 C1349.3,1621.2 1350.7,1622.5 1352.0,1624.0 C1353.3,1625.5 1354.7,1627.1 1356.0,1628.7 C1357.3,1630.4 1358.7,1632.2 1360.0,1634.1 C1361.3,1636.0 1362.7,1638.0 1364.0,1640.0 C1365.3,1642.0 1366.7,1644.1 1368.0,1646.3 C1369.3,1648.4 1370.7,1650.6 1372.0,1652.8 C1373.3,1655.1 1374.7,1657.3 1376.0,1659.6 C1377.3,1661.8 1378.7,1664.1 1380.0,1666.3 C1381.3,1668.5 1382.7,1670.7 1384.0,1672.9 C1385.3,1675.1 1386.7,1677.2 1388.0,1679.3 C1389.3,1681.3 1390.7,1683.4 1392.0,1685.3 C1393.3,1687.2 1394.7,1689.0 1396.0,1690.8 C1397.3,1692.5 1398.7,1694.2 1400.0,1695.7 C1401.3,1697.2 1402.7,1698.6 1404.0,1699.9 C1405.3,1701.2 1406.7,1702.3 1408.0,1703.3 C1409.3,1704.3 1410.7,1705.2 1412.0,1705.9 C1413.3,1706.6 1414.7,1707.2 1416.0,1707.6 C1417.3,1708.0 1418.7,1708.3 1420.0,1708.4 C1421.3,1708.5 1422.7,1708.4 1424.0,1708.2 C1425.3,1707.9 1426.7,1707.6 1428.0,1707.0 C1429.3,1706.5 1430.7,1705.8 1432.0,1705.0 C1433.3,1704.2 1434.7,1703.2 1436.0,1702.1 C1437.3,1700.9 1438.7,1699.7 1440.0,1698.3 C1441.3,1696.9 1442.7,1695.4 1444.0,1693.8 C1445.3,1692.2 1446.7,1690.5 1448.0,1688.6 C1449.3,1686.8 1450.7,1684.9 1452.0,1682.9 C1453.3,1680.9 1454.7,1678.9 1456.0,1676.8 C1457.3,1674.7 1458.7,1672.5 1460.0,1670.3 C1461.3,1668.1 1462.7,1665.8 1464.0,1663.6 C1465.3,1661.4 1466.7,1659.1 1468.0,1656.9 C1469.3,1654.6 1470.7,1652.4 1472.0,1650.2 C1473.3,1648.0 1474.7,1645.8 1476.0,1643.7 C1477.3,1641.6 1478.7,1639.5 1480.0,1637.6 C1481.3,1635.6 1482.7,1633.7 1484.0,1631.9 C1485.3,1630.1 1486.7,1628.4 1488.0,1626.8 C1489.3,1625.2 1490.7,1623.7 1492.0,1622.3 C1493.3,1620.9 1494.7,1619.7 1496.0,1618.6 C1497.3,1617.5 1498.7,1616.5 1500.0,1615.7 C1501.3,1614.9 1502.7,1614.2 1504.0,1613.7 C1505.3,1613.2 1506.7,1612.8 1508.0,1612.6 C1509.3,1612.4 1510.7,1612.3 1512.0,1612.5 C1513.3,1612.6 1514.7,1612.8 1516.0,1613.3 C1517.3,1613.7 1518.7,1614.3 1520.0,1615.0 C1521.3,1615.7 1522.7,1616.6 1524.0,1617.6 C1525.3,1618.6 1526.7,1619.8 1528.0,1621.1 C1529.3,1622.4 1530.7,1623.8 1532.0,1625.3 C1533.3,1626.9 1534.7,1628.5 1536.0,1630.3 C1537.3,1632.0 1538.7,1633.9 1540.0,1635.8 C1541.3,1637.7 1542.7,1639.8 1544.0,1641.8 C1545.3,1643.9 1546.7,1646.1 1548.0,1648.2 C1549.3,1650.4 1550.7,1652.6 1552.0,1654.8 C1553.3,1657.1 1554.7,1659.3 1556.0,1661.6 C1557.3,1663.8 1558.7,1666.1 1560.0,1668.3 C1561.3,1670.5 1562.7,1672.7 1564.0,1674.8 C1565.3,1677.0 1566.7,1679.1 1568.0,1681.1 C1569.3,1683.1 1570.7,1685.1 1572.0,1687.0 C1573.3,1688.8 1574.7,1690.6 1576.0,1692.3 C1577.3,1694.0 1578.7,1695.6 1580.0,1697.0 C1581.3,1698.5 1582.7,1699.8 1584.0,1701.0 C1585.3,1702.2 1586.7,1703.3 1588.0,1704.2 C1589.3,1705.1 1590.7,1705.9 1592.0,1706.5 C1593.3,1707.1 1594.7,1707.6 1596.0,1707.9 C1597.3,1708.2 1598.7,1708.4 1600.0,1708.4 C1601.3,1708.4 1602.7,1708.2 1604.0,1707.9 C1605.3,1707.6 1606.7,1707.1 1608.0,1706.5 C1609.3,1705.9 1610.7,1705.1 1612.0,1704.2 C1613.3,1703.3 1614.7,1702.2 1616.0,1701.0 C1617.3,1699.8 1618.7,1698.5 1620.0,1697.0 C1621.3,1695.6 1622.7,1694.0 1624.0,1692.3 C1625.3,1690.6 1626.7,1688.8 1628.0,1687.0 C1629.3,1685.1 1630.7,1683.1 1632.0,1681.1 C1633.3,1679.1 1634.7,1677.0 1636.0,1674.8 C1637.3,1672.7 1638.7,1670.5 1640.0,1668.3 C1641.3,1666.1 1642.7,1663.8 1644.0,1661.6 C1645.3,1659.3 1646.7,1657.1 1648.0,1654.8 C1649.3,1652.6 1650.7,1650.4 1652.0,1648.2 C1653.3,1646.1 1654.7,1643.9 1656.0,1641.8 C1657.3,1639.8 1658.7,1637.7 1660.0,1635.8 C1661.3,1633.9 1662.7,1632.0 1664.0,1630.3 C1665.3,1628.5 1666.7,1626.9 1668.0,1625.3 C1669.3,1623.8 1670.7,1622.4 1672.0,1621.1 C1673.3,1619.8 1674.7,1618.6 1676.0,1617.6 C1677.3,1616.6 1678.7,1615.7 1680.0,1615.0 C1681.3,1614.3 1682.7,1613.7 1684.0,1613.3 C1685.3,1612.8 1686.7,1612.6 1688.0,1612.5 C1689.3,1612.3 1690.7,1612.4 1692.0,1612.6 C1693.3,1612.8 1694.7,1613.2 1696.0,1613.7 C1697.3,1614.2 1698.7,1614.9 1700.0,1615.7 C1701.3,1616.5 1702.7,1617.5 1704.0,1618.6 C1705.3,1619.7 1706.7,1620.9 1708.0,1622.3 C1709.3,1623.7 1710.7,1625.2 1712.0,1626.8 C1713.3,1628.4 1714.7,1630.1 1716.0,1631.9 C1717.3,1633.7 1718.7,1635.6 1720.0,1637.6 C1721.3,1639.5 1722.7,1641.6 1724.0,1643.7 C1725.3,1645.8 1726.7,1648.0 1728.0,1650.2 C1729.3,1652.4 1730.7,1654.6 1732.0,1656.9 C1733.3,1659.1 1734.7,1661.4 1736.0,1663.6 C1737.3,1665.8 1738.7,1668.1 1740.0,1670.3 C1741.3,1672.5 1743.3,1675.7 1744.0,1676.8"/>
</g>
<rect x="178.1" y="2452.6" width="8.6" height="40.9" fill="#000000"/>
<rect x="188.4" y="2490.1" width="8.6" height="3.4" fill="#ff0000"/>
<rect x="198.7" y="2449.9" width="8.6" height="43.6" fill="#0000ff"/>
<rect x="209.1" y="2456.0" width="8.6" height="37.5" fill="#000000"/>
<rect x="219.4" y="2488.0" width="8.6" height="5.5" fill="#ff0000"/>
<rect x="229.7" y="2460.8" width="8.6" height="32.7" fill="#0000ff"/>
<rect x="240.1" y="2452.6" width="8.6" height="40.9" fill="#000000"/>
<rect x="250.4" y="2486.0" width="8.6" height="7.5" fill="#ff0000"/>
<rect x="260.7" y="2456.7" width="8.6" height="36.8" fill="#0000ff"/>
<rect x="271.1" y="2441.7" width="8.6" height="51.8" fill="#000000"/>
<rect x="281.4" y="2479.9" width="8.6" height="13.6" fill="#ff0000"/>
<rect x="291.7" y="2428.0" width="8.6" height="65.5" fill="#0000ff"/>
<rect x="302.1" y="2431.4" width="8.6" height="62.1" fill="#000000"/>
<rect x="312.4" y="2481.2" width="8.6" height="12.3" fill="#ff0000"/>
<rect x="322.7" y="2439.6" width="8.6" height="53.9" fill="#0000ff"/>
<rect x="333.1" y="2415.1" width="8.6" height="78.4" fill="#000000"/>
<rect x="343.4" y="2477.1" width="8.6" height="16.4" fill="#ff0000"/>
<rect x="353.7" y="2417.1" width="8.6" height="76.4" fill="#0000ff"/>
<rect x="364.1" y="2385.7" width="8.6" height="107.8" fill="#000000"/>
<rect x="374.4" y="2471.7" width="8.6" height="21.8" fill="#ff0000"/>
<rect x="384.7" y="2376.9" width="8.6" height="116.6" fill="#0000ff"/>
<rect x="395.1" y="2316.9" width="8.6" height="176.6" fill="#000000"/>
<rect x="405.4" y="2475.1" width="8.6" height="18.4" fill="#ff0000"/>
<rect x="415.7" y="2318.9" width="8.6" height="174.6" fill="#0000ff"/>
<rect x="426.1" y="2156.6" width="8.6" height="336.9" fill="#000000"/>
<rect x="436.4" y="2385.7" width="8.6" height="107.8" fill="#ff0000"/>
<rect x="446.7" y="2265.0" width="8.6" height="228.5" fill="#0000ff"/>
<rect x="457.1" y="1762.4" width="8.6" height="731.1" fill="#000000"/>
<rect x="467.4" y="2362.6" width="8.6" height="130.9" fill="#ff0000"/>
<rect x="477.7" y="1892.7" width="8.6" height="600.8" fill="#0000ff"/>
<rect x="488.1" y="2058.4" width="8.6" height="435.1" fill="#000000"/>
<rect x="498.4" y="2314.1" width="8.6" height="179.4" fill="#ff0000"/>
<rect x="508.7" y="2145.7" width="8.6" height="347.8" fill="#0000ff"/>
<rect x="519.1" y="2303.9" width="8.6" height="189.6" fill="#000000"/>
<rect x="529.4" y="2423.3" width="8.6" height="70.2" fill="#ff0000"/>
<rect x="539.7" y="2338.7" width="8.6" height="154.8" fill="#0000ff"/>
<rect x="550.1" y="2396.0" width="8.6" height="97.5" fill="#000000"/>
<rect x="560.4" y="2479.2" width="8.6" height="14.3" fill="#ff0000"/>
<rect x="570.7" y="2410.3" width="8.6" height="83.2" fill="#0000ff"/>
<rect x="581.1" y="2404.2" width="8.6" height="89.3" fill="#000000"/>
<rect x="591.4" y="2452.6" width="8.6" height="40.9" fill="#ff0000"/>
<rect x="601.7" y="2442.3" width="8.6" height="51.2" fill="#0000ff"/>
<rect x="612.1" y="2445.8" width="8.6" height="47.7" fill="#000000"/>
<rect x="622.4" y="2471.7" width="8.6" height="21.8" fill="#ff0000"/>
<rect x="632.7" y="2456.0" width="8.6" height="37.5" fill="#0000ff"/>
<rect x="643.1" y="2449.9" width="8.6" height="43.6" fill="#000000"/>
<rect x="653.4" y="2479.9" width="8.6" height="13.6" fill="#ff0000"/>
<rect x="663.7" y="2456.7" width="8.6" height="36.8" fill="#0000ff"/>
<rect x="674.1" y="2456.7" width="8.6" height="36.8" fill="#000000"/>
<rect x="684.4" y="2481.2" width="8.6" height="12.3" fill="#ff0000"/>
<rect x="694.7" y="2464.9" width="8.6" height="28.6" fill="#0000ff"/>
<rect x="705.1" y="2460.8" width="8.6" height="32.7" fill="#000000"/>
<rect x="715.4" y="2482.6" width="8.6" height="10.9" fill="#ff0000"/>
<rect x="725.7" y="2471.0" width="8.6" height="22.5" fill="#0000ff"/>
<rect x="736.1" y="2471.7" width="8.6" height="21.8" fill="#000000"/>
<rect x="746.4" y="2482.6" width="8.6" height="10.9" fill="#ff0000"/>
<rect x="756.7" y="2482.6" width="8.6" height="10.9" fill="#0000ff"/>
<rect x="767.1" y="2479.2" width="8.6" height="14.3" fill="#000000"/>
<rect x="777.4" y="2482.6" width="8.6" height="10.9" fill="#ff0000"/>
<rect x="787.7" y="2477.1" width="8.6" height="16.4" fill="#0000ff"/>
<rect x="798.1" y="2463.5" width="8.6" height="30.0" fill="#000000"/>
<rect x="808.4" y="2487.4" width="8.6" height="6.1" fill="#ff0000"/>
<rect x="818.7" y="2463.5" width="8.6" height="30.0" fill="#0000ff"/>
<rect x="829.1" y="2462.8" width="8.6" height="30.7" fill="#000000"/>
<rect x="839.4" y="2488.0" width="8.6" height="5.5" fill="#ff0000"/>
<rect x="849.7" y="2466.9" width="8.6" height="26.6" fill="#0000ff"/>
<rect x="860.1" y="2479.9" width="8.6" height="13.6" fill="#000000"/>
<rect x="870.4" y="2489.4" width="8.6" height="4.1" fill="#ff0000"/>
<rect x="880.7" y="2483.3" width="8.6" height="10.2" fill="#0000ff"/>
<rect x="891.1" y="2475.1" width="8.6" height="18.4" fill="#000000"/>
<rect x="901.4" y="2487.4" width="8.6" height="6.1" fill="#ff0000"/>
<rect x="911.7" y="2479.9" width="8.6" height="13.6" fill="#0000ff"/>
<rect x="922.1" y="2473.7" width="8.6" height="19.8" fill="#000000"/>
<rect x="932.4" y="2487.4" width="8.6" height="6.1" fill="#ff0000"/>
<rect x="942.7" y="2476.4" width="8.6" height="17.1" fill="#0000ff"/>
<rect x="953.1" y="2474.4" width="8.6" height="19.1" fill="#000000"/>
<rect x="963.4" y="2489.4" width="8.6" height="4.1" fill="#ff0000"/>
<rect x="973.7" y="2476.4" width="8.6" height="17.1" fill="#0000ff"/>
<rect x="984.1" y="2474.4" width="8.6" height="19.1" fill="#000000"/>
<rect x="994.4" y="2489.4" width="8.6" height="4.1" fill="#ff0000"/>
<rect x="1004.7" y="2476.4" width="8.6" height="17.1" fill="#0000ff"/>
<rect x="1015.1" y="2476.4" width="8.6" height="17.1" fill="#000000"/>
<rect x="1025.4" y="2491.5" width="8.6" height="2.0" fill="#ff0000"/>
<rect x="1035.7" y="2476.4" width="8.6" height="17.1" fill="#0000ff"/>
<rect x="1046.1" y="2476.4" width="8.6" height="17.1" fill="#000000"/>
<rect x="1056.4" y="2489.4" width="8.6" height="4.1" fill="#ff0000"/>
<rect x="1066.7" y="2479.2" width="8.6" height="14.3" fill="#0000ff"/>
<rect x="1077.1" y="2482.6" width="8.6" height="10.9" fill="#000000"/>
<rect x="1087.4" y="2487.4" width="8.6" height="6.1" fill="#ff0000"/>
<rect x="1097.7" y="2483.3" width="8.6" height="10.2" fill="#0000ff"/>
<rect x="1108.1" y="2483.3" width="8.6" height="10.2" fill="#000000"/>
<rect x="1118.4" y="2483.3" width="8.6" height="10.2" fill="#ff0000"/>
<rect x="1128.7" y="2491.5" width="8.6" height="2.0" fill="#0000ff"/>
<rect x="1139.1" y="2485.3" width="8.6" height="8.2" fill="#000000"/>
<rect x="1149.4" y="2485.3" width="8.6" height="8.2" fill="#ff0000"/>
<rect x="1159.7" y="2487.4" width="8.6" height="6.1" fill="#0000ff"/>
<rect x="1170.1" y="2485.3" width="8.6" height="8.2" fill="#000000"/>
<rect x="1180.4" y="2489.4" width="8.6" height="4.1" fill="#ff0000"/>
<rect x="1190.7" y="2485.3" width="8.6" height="8.2" fill="#0000ff"/>
<rect x="1201.1" y="2487.4" width="8.6" height="6.1" fill="#000000"/>
<rect x="1211.4" y="2491.5" width="8.6" height="2.0" fill="#ff0000"/>
<rect x="1221.7" y="2489.4" width="8.6" height="4.1" fill="#0000ff"/>
<rect x="1232.1" y="2482.6" width="8.6" height="10.9" fill="#000000"/>
<rect x="1242.4" y="2487.4" width="8.6" height="6.1" fill="#ff0000"/>
<rect x="1252.7" y="2487.4" width="8.6" height="6.1" fill="#0000ff"/>
<rect x="1263.1" y="2485.3" width="8.6" height="8.2" fill="#000000"/>
<rect x="1273.4" y="2487.4" width="8.6" height="6.1" fill="#ff0000"/>
<rect x="1283.7" y="2491.5" width="8.6" height="2.0" fill="#0000ff"/>
<rect x="1294.1" y="2482.6" width="8.6" height="10.9" fill="#000000"/>
<rect x="1304.4" y="2489.4" width="8.6" height="4.1" fill="#ff0000"/>
<rect x="1314.7" y="2485.3" width="8.6" height="8.2" fill="#0000ff"/>
<rect x="1325.1" y="2479.9" width="8.6" height="13.6" fill="#000000"/>
<rect x="1335.4" y="2489.4" width="8.6" height="4.1" fill="#ff0000"/>
<rect x="1345.7" y="2482.6" width="8.6" height="10.9" fill="#0000ff"/>
<rect x="1356.1" y="2479.9" width="8.6" height="13.6" fill="#000000"/>
<rect x="1366.4" y="2491.5" width="8.6" height="2.0" fill="#ff0000"/>
<rect x="1376.7" y="2479.9" width="8.6" height="13.6" fill="#0000ff"/>
<rect x="1387.1" y="2479.9" width="8.6" height="13.6" fill="#000000"/>
<rect x="1397.4" y="2489.4" width="8.6" height="4.1" fill="#ff0000"/>
<rect x="1407.7" y="2481.2" width="8.6" height="12.3" fill="#0000ff"/>
<rect x="1418.1" y="2485.3" width="8.6" height="8.2" fill="#000000"/>
<rect x="1428.4" y="2489.4" width="8.6" height="4.1" fill="#ff0000"/>
<rect x="1438.7" y="2487.4" width="8.6" height="6.1" fill="#0000ff"/>
<rect x="1449.1" y="2485.3" width="8.6" height="8.2" fill="#000000"/>
<rect x="1459.4" y="2487.4" width="8.6" height="6.1" fill="#ff0000"/>
<rect x="1469.7" y="2492.8" width="8.6" height="0.7" fill="#0000ff"/>
<rect x="1480.1" y="2483.3" width="8.6" height="10.2" fill="#000000"/>
<rect x="1490.4" y="2487.4" width="8.6" height="6.1" fill="#ff0000"/>
<rect x="1500.7" y="2489.4" width="8.6" height="4.1" fill="#0000ff"/>
<rect x="1511.1" y="2485.3" width="8.6" height="8.2" fill="#000000"/>
<rect x="1521.4" y="2485.3" width="8.6" height="8.2" fill="#ff0000"/>
<rect x="1531.7" y="2487.4" width="8.6" height="6.1" fill="#0000ff"/>
<rect x="1542.1" y="2483.3" width="8.6" height="10.2" fill="#000000"/>
<rect x="1552.4" y="2487.4" width="8.6" height="6.1" fill="#ff0000"/>
<rect x="1562.7" y="2483.3" width="8.6" height="10.2" fill="#0000ff"/>
<rect x="1573.1" y="2483.3" width="8.6" height="10.2" fill="#000000"/>
<rect x="1583.4" y="2491.5" width="8.6" height="2.0" fill="#ff0000"/>
<rect x="1593.7" y="2485.3" width="8.6" height="8.2" fill="#0000ff"/>
<rect x="1604.1" y="2487.4" width="8.6" height="6.1" fill="#000000"/>
<rect x="1614.4" y="2489.4" width="8.6" height="4.1" fill="#ff0000"/>
<rect x="1624.7" y="2489.4" width="8.6" height="4.1" fill="#0000ff"/>
<rect x="1635.1" y="2487.4" width="8.6" height="6.1" fill="#000000"/>
<rect x="1645.4" y="2489.4" width="8.6" height="4.1" fill="#ff0000"/>
<rect x="1655.7" y="2489.4" width="8.6" height="4.1" fill="#0000ff"/>
<rect x="1666.1" y="2487.4" width="8.6" height="6.1" fill="#000000"/>
<rect x="1676.4" y="2489.4" width="8.6" height="4.1" fill="#ff0000"/>
<rect x="1686.7" y="2489.4" width="8.6" height="4.1" fill="#0000ff"/>
<rect x="1697.1" y="2487.4" width="8.6" height="6.1" fill="#000000"/>
<rect x="1707.4" y="2491.5" width="8.6" height="2.0" fill="#ff0000"/>
<rect x="1717.7" y="2487.4" width="8.6" height="6.1" fill="#0000ff"/>
<rect x="1728.1" y="2485.3" width="8.6" height="8.2" fill="#000000"/>
<rect x="1738.4" y="2492.8" width="8.6" height="0.7" fill="#ff0000"/>
<rect x="1748.7" y="2487.4" width="8.6" height="6.1" fill="#0000ff"/>
<rect x="1772.6" y="2479" width="2" height="15" fill="#909090"/>
<rect x="1804.0" y="2479" width="2" height="15" fill="#909090"/>
<text x="1290" y="1894" text-anchor="middle" style="font-family:'Liberation Sans',sans-serif;font-size:29px" fill="#000000">28.9% THD-F</text>
<text x="1290" y="2016" text-anchor="middle" style="font-family:'Liberation Sans',sans-serif;font-size:29px" fill="#ff0000">7.9% THD-F</text>
<text x="1290" y="2136.6" text-anchor="middle" style="font-family:'Liberation Sans',sans-serif;font-size:29px" fill="#0000ff">23.6% THD-F</text>
<text x="1290" y="2259" text-anchor="middle" style="font-family:'Liberation Sans',sans-serif;font-size:29px" fill="#00e000">1034.7% THD-F</text>
<ellipse cx="469" cy="1936.5" rx="59" ry="200.5" fill="none" stroke="#ff6a0a" stroke-width="4.8"/>
<g fill="url(#logoU)">
<linearGradient id="logoU" gradientUnits="userSpaceOnUse" x1="0" y1="2360" x2="0" y2="2640"><stop offset="0" stop-color="#4b99e5"/><stop offset="1" stop-color="#2e71c3"/></linearGradient>
<ellipse cx="3203" cy="2472.5" rx="59.3" ry="63.5"/>
<path d="M3285.6,2500 L3285.6,2472 A50.55,63 0 0 1 3386.7,2472 L3386.7,2500 Z"/>
<path d="M3352.8,2500 L3352.8,2472 A50.45,63 0 0 1 3453.7,2472 L3453.7,2500 Z"/>
</g>
<g fill="#ffffff">
<circle cx="3203.7" cy="2467.5" r="23.7"/>
<path d="M3179.3,2467 L3227.4,2467 L3227,2487 C3223,2493 3216,2497.5 3203,2499.8 L3200,2501.3 L3185.7,2531.4 L3179.3,2533 Z"/>
<path d="M3321,2545 L3321,2458.3 A15.9,15.9 0 0 1 3352.8,2458.3 L3352.8,2545 Z"/>
<path d="M3386.7,2545 L3386.7,2458.3 A15.65,15.65 0 0 1 3418,2458.3 L3418,2545 Z"/>
</g>
<g fill="url(#logoU)">
<rect x="3143.7" y="2460" width="35.6" height="173.8" rx="4"/>
<rect x="3285.6" y="2460" width="35.4" height="173.8" rx="4"/>
<rect x="3352.8" y="2480" width="33.9" height="53.5" rx="4"/>
<rect x="3418" y="2480" width="35.7" height="53.5" rx="4"/>
<rect x="3505" y="2407.6" width="35" height="126.4" rx="4"/>
<circle cx="3523.3" cy="2380.9" r="20.6"/>
<rect x="3052" y="2467" width="435" height="19.6" rx="9.8"/>
</g>
<circle cx="3570" cy="2522.7" r="11.6" fill="none" stroke="#3a7fd0" stroke-width="2.2"/>
<text x="3570" y="2529.5" text-anchor="middle" style="font-family:'Liberation Sans',sans-serif;font-size:17px;font-weight:700" fill="#3a7fd0">R</text>
</svg></body></html>
